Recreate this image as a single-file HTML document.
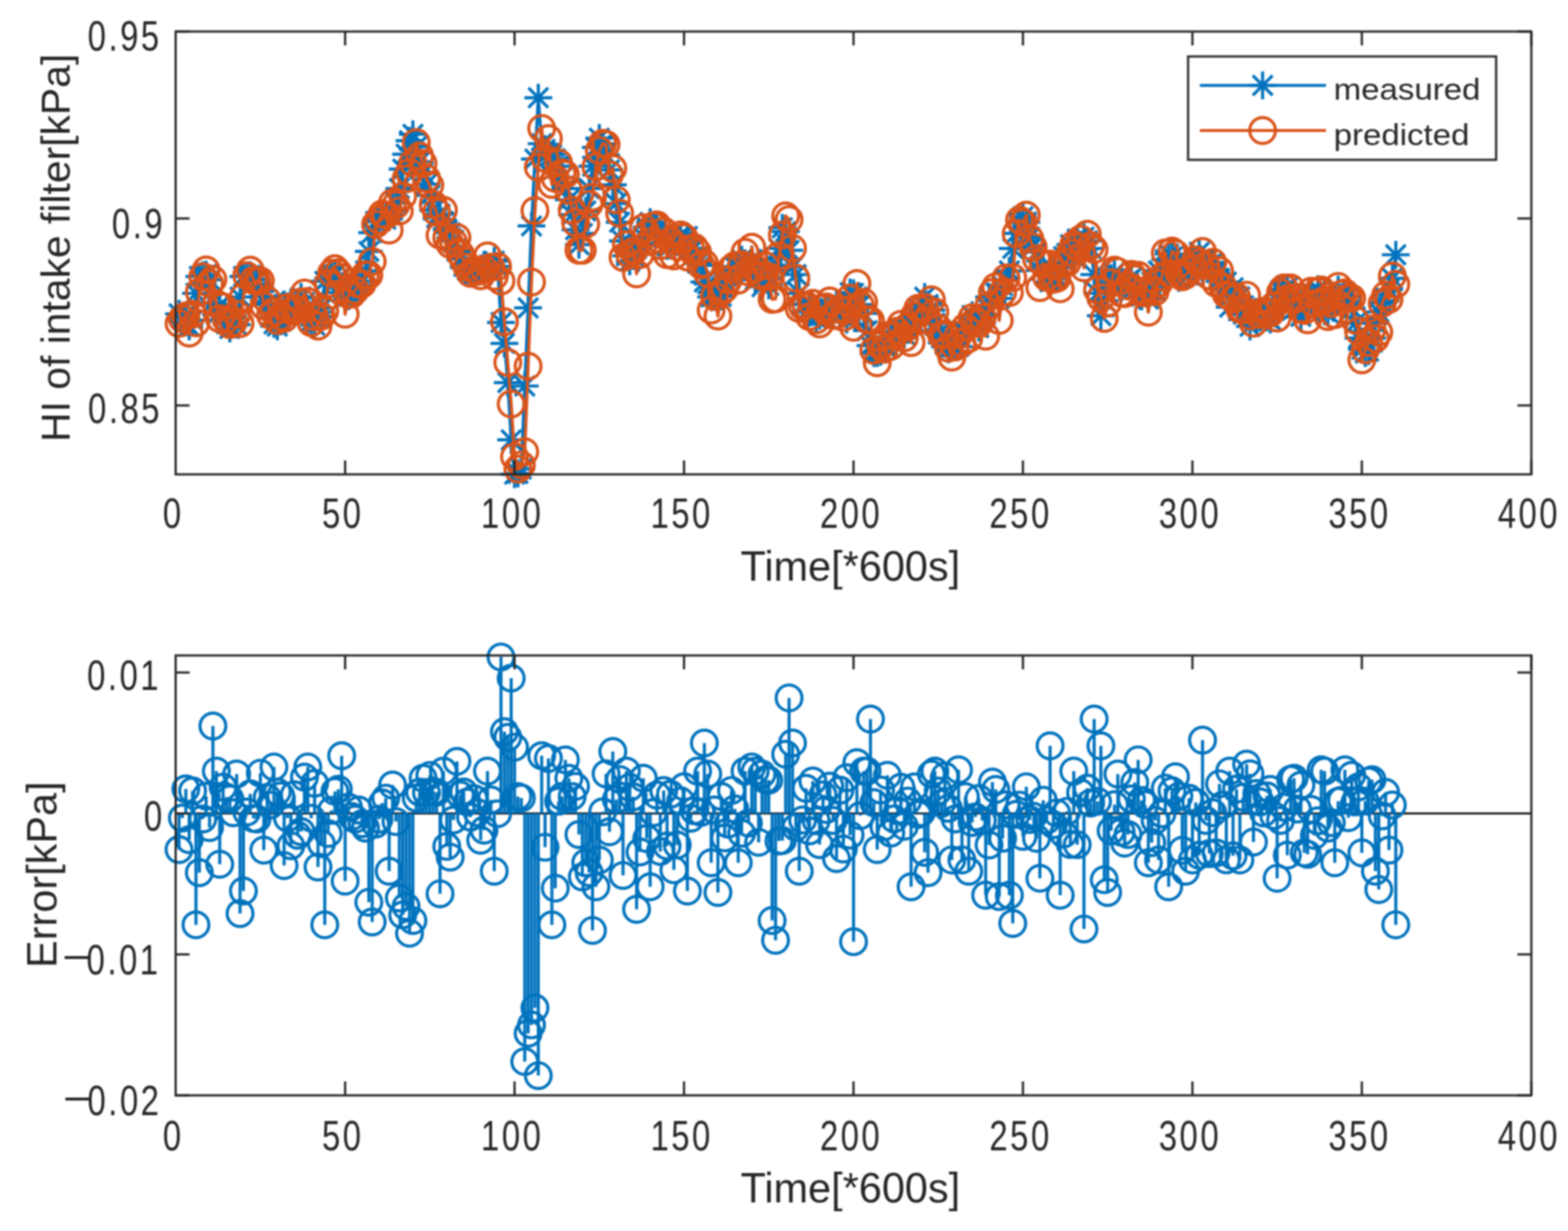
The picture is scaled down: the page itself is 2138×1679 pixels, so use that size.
<!DOCTYPE html>
<html><head><meta charset="utf-8"><title>HI of intake filter</title>
<style>html,body{margin:0;padding:0;background:#fff;}body{width:2138px;height:1679px;overflow:hidden;}svg{display:block;filter:blur(1.0px);}</style>
</head><body>
<svg width="2138" height="1679" viewBox="0 0 2138 1679">
<rect width="2138" height="1679" fill="#fff"/>
<polyline points="244.1,428.0 248.7,433.1 253.4,439.8 258.0,444.9 262.6,436.7 267.2,400.0 271.8,377.1 276.5,375.5 281.1,374.5 285.7,381.6 290.3,412.8 295.0,429.6 299.6,416.3 304.2,428.0 308.8,441.8 313.4,447.9 318.1,439.8 322.7,442.8 327.3,405.1 331.9,377.1 336.5,376.5 341.2,375.5 345.8,380.6 350.4,382.2 355.0,397.5 359.7,404.1 364.3,415.3 368.9,433.1 373.5,441.8 378.1,444.9 382.8,438.2 387.4,415.3 392.0,417.9 396.6,412.8 401.2,428.0 405.9,414.3 410.5,405.1 415.1,412.8 419.7,428.0 424.4,438.2 429.0,443.3 433.6,425.5 438.2,420.4 442.8,383.7 447.5,379.6 452.1,373.5 456.7,374.5 461.3,380.6 465.9,399.0 470.6,404.1 475.2,404.1 479.8,400.0 484.4,393.9 489.0,388.8 493.7,383.7 498.3,369.4 502.9,342.9 507.5,317.4 512.2,302.1 516.8,298.0 521.4,295.4 526.0,299.0 530.6,292.9 535.3,286.8 539.9,276.6 544.5,257.2 549.1,230.7 553.7,210.3 558.4,191.9 563.0,183.2 567.6,200.1 572.2,220.5 576.9,235.8 581.5,251.1 586.1,266.4 590.7,286.8 595.3,297.0 600.0,291.9 604.6,302.1 609.2,312.3 613.8,317.4 618.4,327.6 623.1,342.9 627.7,353.1 632.3,363.3 636.9,368.4 641.5,371.4 646.2,373.5 650.8,370.4 655.4,366.3 660.0,361.2 664.7,364.3 669.3,369.4 673.9,356.1 678.5,363.3 683.1,439.8 687.8,468.3 692.4,521.9 697.0,599.9 701.6,646.8 706.2,645.8 710.9,639.7 715.5,526.5 720.1,419.9 724.7,308.2 729.4,216.9 734.0,133.3 738.6,196.0 743.2,203.6 747.8,208.7 752.5,211.3 757.1,216.4 761.7,226.6 766.3,241.9 770.9,257.2 775.6,272.5 780.2,292.9 784.8,313.3 789.4,333.7 794.0,318.4 798.7,287.8 803.3,257.2 807.9,226.6 812.5,201.1 817.2,188.3 821.8,196.0 826.4,211.3 831.0,231.7 835.6,252.1 840.3,277.6 844.9,303.1 849.5,328.6 854.1,349.0 858.7,356.6 863.4,349.0 868.0,338.8 872.6,333.5 877.2,323.5 881.9,310.0 886.5,303.1 891.1,308.3 895.7,313.3 900.3,321.4 905.0,323.5 909.6,335.5 914.2,335.0 918.8,328.6 923.4,325.0 928.1,324.9 932.7,333.7 937.3,322.5 941.9,338.8 946.6,338.5 951.2,359.2 955.8,362.0 960.4,384.7 965.0,387.2 969.7,405.1 974.3,405.1 978.9,402.6 983.5,404.3 988.1,384.7 992.8,378.2 997.4,374.5 1002.0,363.9 1006.6,364.3 1011.2,353.9 1015.9,359.2 1020.5,367.4 1025.1,354.1 1029.7,381.7 1034.4,364.3 1039.0,391.1 1043.6,374.5 1048.2,389.2 1052.8,369.4 1057.5,361.7 1062.1,338.8 1066.7,310.7 1071.3,315.8 1075.9,341.3 1080.6,364.3 1085.2,374.5 1089.8,400.0 1094.4,415.3 1099.1,425.4 1103.7,425.5 1108.3,425.4 1112.9,433.7 1117.5,430.6 1122.2,427.3 1126.8,420.2 1131.4,420.4 1136.0,427.7 1140.6,413.8 1145.3,430.6 1149.9,420.0 1154.5,435.7 1159.1,399.0 1163.8,400.0 1168.4,405.1 1173.0,415.3 1177.6,427.5 1182.2,451.0 1186.9,471.4 1191.5,481.6 1196.1,481.6 1200.7,479.9 1205.3,471.4 1210.0,471.5 1214.6,465.3 1219.2,456.1 1223.8,452.8 1228.4,451.8 1233.1,456.1 1237.7,450.0 1242.3,440.8 1246.9,440.3 1251.6,420.4 1256.2,423.4 1260.8,405.1 1265.4,415.3 1270.0,423.2 1274.7,440.8 1279.3,455.5 1283.9,461.2 1288.5,469.3 1293.1,476.5 1297.8,470.3 1302.4,471.4 1307.0,472.7 1311.6,451.0 1316.3,452.3 1320.9,440.8 1325.5,430.1 1330.1,435.7 1334.7,446.8 1339.4,430.6 1344.0,429.0 1348.6,405.1 1353.2,410.2 1357.8,400.0 1362.5,407.0 1367.1,389.8 1371.7,382.3 1376.3,369.4 1380.9,338.8 1385.6,318.4 1390.2,303.1 1394.8,295.4 1399.4,303.1 1404.1,323.5 1408.7,335.9 1413.3,343.9 1417.9,368.9 1422.5,364.3 1427.2,375.8 1431.8,384.7 1436.4,376.8 1441.0,379.6 1445.6,364.3 1450.3,349.8 1454.9,359.2 1459.5,333.7 1464.1,349.0 1468.8,325.8 1473.4,333.7 1478.0,323.5 1482.6,328.6 1487.2,338.8 1491.9,374.5 1496.5,400.0 1501.1,430.6 1505.7,410.2 1510.3,384.7 1515.0,379.6 1519.6,371.7 1524.2,384.7 1528.8,392.9 1533.5,389.8 1538.1,382.5 1542.7,379.6 1547.3,391.5 1551.9,394.9 1556.6,404.2 1561.2,400.0 1565.8,408.0 1570.4,384.7 1575.0,395.3 1579.7,369.4 1584.3,377.6 1588.9,354.1 1593.5,346.4 1598.1,350.5 1602.8,359.2 1607.4,379.0 1612.0,364.3 1616.6,354.1 1621.3,375.3 1625.9,349.0 1630.5,358.5 1635.1,343.9 1639.7,369.4 1644.4,359.6 1649.0,361.8 1653.6,357.9 1658.2,371.9 1662.8,379.6 1667.5,394.2 1672.1,384.7 1676.7,418.9 1681.3,392.4 1686.0,413.7 1690.6,405.1 1695.2,428.5 1699.8,420.4 1704.4,445.2 1709.1,430.6 1713.7,434.7 1718.3,433.1 1722.9,424.7 1727.5,433.1 1732.2,435.7 1736.8,416.5 1741.4,410.2 1746.0,396.4 1750.6,394.9 1755.3,392.3 1759.9,405.1 1764.5,421.4 1769.1,407.3 1773.8,431.6 1778.4,409.3 1783.0,421.4 1787.6,398.7 1792.2,406.1 1796.9,394.6 1801.5,411.2 1806.1,424.8 1810.7,426.5 1815.3,410.7 1820.0,411.2 1824.6,395.0 1829.2,406.1 1833.8,415.3 1838.5,404.8 1843.1,420.4 1847.7,440.8 1852.3,461.2 1856.9,476.5 1861.6,481.6 1866.2,479.0 1870.8,461.2 1875.4,440.8 1880.0,425.5 1884.7,412.8 1889.3,410.2 1893.9,394.9 1898.5,379.6 1903.2,347.5" fill="none" stroke="#0072BD" stroke-width="4.2" stroke-linejoin="round"/>
<path d="M225.1 428.0h38.0M244.1 409.0v38.0M230.7 414.6l26.9 26.9M230.7 441.5l26.9 -26.9M229.7 433.1h38.0M248.7 414.1v38.0M235.3 419.7l26.9 26.9M235.3 446.6l26.9 -26.9M234.4 439.8h38.0M253.4 420.8v38.0M239.9 426.3l26.9 26.9M239.9 453.2l26.9 -26.9M239.0 444.9h38.0M258.0 425.9v38.0M244.6 431.4l26.9 26.9M244.6 458.3l26.9 -26.9M243.6 436.7h38.0M262.6 417.7v38.0M249.2 423.3l26.9 26.9M249.2 450.2l26.9 -26.9M248.2 400.0h38.0M267.2 381.0v38.0M253.8 386.6l26.9 26.9M253.8 413.4l26.9 -26.9M252.8 377.1h38.0M271.8 358.1v38.0M258.4 363.6l26.9 26.9M258.4 390.5l26.9 -26.9M257.5 375.5h38.0M276.5 356.5v38.0M263.0 362.1l26.9 26.9M263.0 389.0l26.9 -26.9M262.1 374.5h38.0M281.1 355.5v38.0M267.7 361.1l26.9 26.9M267.7 387.9l26.9 -26.9M266.7 381.6h38.0M285.7 362.6v38.0M272.3 368.2l26.9 26.9M272.3 395.1l26.9 -26.9M271.3 412.8h38.0M290.3 393.8v38.0M276.9 399.3l26.9 26.9M276.9 426.2l26.9 -26.9M276.0 429.6h38.0M295.0 410.6v38.0M281.5 416.1l26.9 26.9M281.5 443.0l26.9 -26.9M280.6 416.3h38.0M299.6 397.3v38.0M286.1 402.9l26.9 26.9M286.1 429.8l26.9 -26.9M285.2 428.0h38.0M304.2 409.0v38.0M290.8 414.6l26.9 26.9M290.8 441.5l26.9 -26.9M289.8 441.8h38.0M308.8 422.8v38.0M295.4 428.4l26.9 26.9M295.4 455.3l26.9 -26.9M294.4 447.9h38.0M313.4 428.9v38.0M300.0 434.5l26.9 26.9M300.0 461.4l26.9 -26.9M299.1 439.8h38.0M318.1 420.8v38.0M304.6 426.3l26.9 26.9M304.6 453.2l26.9 -26.9M303.7 442.8h38.0M322.7 423.8v38.0M309.2 429.4l26.9 26.9M309.2 456.3l26.9 -26.9M308.3 405.1h38.0M327.3 386.1v38.0M313.9 391.7l26.9 26.9M313.9 418.5l26.9 -26.9M312.9 377.1h38.0M331.9 358.1v38.0M318.5 363.6l26.9 26.9M318.5 390.5l26.9 -26.9M317.5 376.5h38.0M336.5 357.5v38.0M323.1 363.1l26.9 26.9M323.1 390.0l26.9 -26.9M322.2 375.5h38.0M341.2 356.5v38.0M327.7 362.1l26.9 26.9M327.7 389.0l26.9 -26.9M326.8 380.6h38.0M345.8 361.6v38.0M332.4 367.2l26.9 26.9M332.4 394.1l26.9 -26.9M331.4 382.2h38.0M350.4 363.2v38.0M337.0 368.7l26.9 26.9M337.0 395.6l26.9 -26.9M336.0 397.5h38.0M355.0 378.5v38.0M341.6 384.0l26.9 26.9M341.6 410.9l26.9 -26.9M340.7 404.1h38.0M359.7 385.1v38.0M346.2 390.6l26.9 26.9M346.2 417.5l26.9 -26.9M345.3 415.3h38.0M364.3 396.3v38.0M350.8 401.9l26.9 26.9M350.8 428.7l26.9 -26.9M349.9 433.1h38.0M368.9 414.1v38.0M355.5 419.7l26.9 26.9M355.5 446.6l26.9 -26.9M354.5 441.8h38.0M373.5 422.8v38.0M360.1 428.4l26.9 26.9M360.1 455.3l26.9 -26.9M359.1 444.9h38.0M378.1 425.9v38.0M364.7 431.4l26.9 26.9M364.7 458.3l26.9 -26.9M363.8 438.2h38.0M382.8 419.2v38.0M369.3 424.8l26.9 26.9M369.3 451.7l26.9 -26.9M368.4 415.3h38.0M387.4 396.3v38.0M373.9 401.9l26.9 26.9M373.9 428.7l26.9 -26.9M373.0 417.9h38.0M392.0 398.9v38.0M378.6 404.4l26.9 26.9M378.6 431.3l26.9 -26.9M377.6 412.8h38.0M396.6 393.8v38.0M383.2 399.3l26.9 26.9M383.2 426.2l26.9 -26.9M382.2 428.0h38.0M401.2 409.0v38.0M387.8 414.6l26.9 26.9M387.8 441.5l26.9 -26.9M386.9 414.3h38.0M405.9 395.3v38.0M392.4 400.8l26.9 26.9M392.4 427.7l26.9 -26.9M391.5 405.1h38.0M410.5 386.1v38.0M397.1 391.7l26.9 26.9M397.1 418.5l26.9 -26.9M396.1 412.8h38.0M415.1 393.8v38.0M401.7 399.3l26.9 26.9M401.7 426.2l26.9 -26.9M400.7 428.0h38.0M419.7 409.0v38.0M406.3 414.6l26.9 26.9M406.3 441.5l26.9 -26.9M405.4 438.2h38.0M424.4 419.2v38.0M410.9 424.8l26.9 26.9M410.9 451.7l26.9 -26.9M410.0 443.3h38.0M429.0 424.3v38.0M415.5 429.9l26.9 26.9M415.5 456.8l26.9 -26.9M414.6 425.5h38.0M433.6 406.5v38.0M420.2 412.1l26.9 26.9M420.2 438.9l26.9 -26.9M419.2 420.4h38.0M438.2 401.4v38.0M424.8 407.0l26.9 26.9M424.8 433.8l26.9 -26.9M423.8 383.7h38.0M442.8 364.7v38.0M429.4 370.2l26.9 26.9M429.4 397.1l26.9 -26.9M428.5 379.6h38.0M447.5 360.6v38.0M434.0 366.2l26.9 26.9M434.0 393.0l26.9 -26.9M433.1 373.5h38.0M452.1 354.5v38.0M438.6 360.0l26.9 26.9M438.6 386.9l26.9 -26.9M437.7 374.5h38.0M456.7 355.5v38.0M443.3 361.1l26.9 26.9M443.3 387.9l26.9 -26.9M442.3 380.6h38.0M461.3 361.6v38.0M447.9 367.2l26.9 26.9M447.9 394.1l26.9 -26.9M446.9 399.0h38.0M465.9 380.0v38.0M452.5 385.5l26.9 26.9M452.5 412.4l26.9 -26.9M451.6 404.1h38.0M470.6 385.1v38.0M457.1 390.6l26.9 26.9M457.1 417.5l26.9 -26.9M456.2 404.1h38.0M475.2 385.1v38.0M461.7 390.6l26.9 26.9M461.7 417.5l26.9 -26.9M460.8 400.0h38.0M479.8 381.0v38.0M466.4 386.6l26.9 26.9M466.4 413.4l26.9 -26.9M465.4 393.9h38.0M484.4 374.9v38.0M471.0 380.4l26.9 26.9M471.0 407.3l26.9 -26.9M470.0 388.8h38.0M489.0 369.8v38.0M475.6 375.3l26.9 26.9M475.6 402.2l26.9 -26.9M474.7 383.7h38.0M493.7 364.7v38.0M480.2 370.2l26.9 26.9M480.2 397.1l26.9 -26.9M479.3 369.4h38.0M498.3 350.4v38.0M484.9 356.0l26.9 26.9M484.9 382.8l26.9 -26.9M483.9 342.9h38.0M502.9 323.9v38.0M489.5 329.4l26.9 26.9M489.5 356.3l26.9 -26.9M488.5 317.4h38.0M507.5 298.4v38.0M494.1 303.9l26.9 26.9M494.1 330.8l26.9 -26.9M493.2 302.1h38.0M512.2 283.1v38.0M498.7 288.6l26.9 26.9M498.7 315.5l26.9 -26.9M497.8 298.0h38.0M516.8 279.0v38.0M503.3 284.6l26.9 26.9M503.3 311.4l26.9 -26.9M502.4 295.4h38.0M521.4 276.4v38.0M508.0 282.0l26.9 26.9M508.0 308.9l26.9 -26.9M507.0 299.0h38.0M526.0 280.0v38.0M512.6 285.6l26.9 26.9M512.6 312.5l26.9 -26.9M511.6 292.9h38.0M530.6 273.9v38.0M517.2 279.5l26.9 26.9M517.2 306.3l26.9 -26.9M516.3 286.8h38.0M535.3 267.8v38.0M521.8 273.3l26.9 26.9M521.8 300.2l26.9 -26.9M520.9 276.6h38.0M539.9 257.6v38.0M526.4 263.1l26.9 26.9M526.4 290.0l26.9 -26.9M525.5 257.2h38.0M544.5 238.2v38.0M531.1 243.8l26.9 26.9M531.1 270.6l26.9 -26.9M530.1 230.7h38.0M549.1 211.7v38.0M535.7 217.2l26.9 26.9M535.7 244.1l26.9 -26.9M534.7 210.3h38.0M553.7 191.3v38.0M540.3 196.8l26.9 26.9M540.3 223.7l26.9 -26.9M539.4 191.9h38.0M558.4 172.9v38.0M544.9 178.5l26.9 26.9M544.9 205.4l26.9 -26.9M544.0 183.2h38.0M563.0 164.2v38.0M549.6 169.8l26.9 26.9M549.6 196.7l26.9 -26.9M548.6 200.1h38.0M567.6 181.1v38.0M554.2 186.6l26.9 26.9M554.2 213.5l26.9 -26.9M553.2 220.5h38.0M572.2 201.5v38.0M558.8 207.0l26.9 26.9M558.8 233.9l26.9 -26.9M557.9 235.8h38.0M576.9 216.8v38.0M563.4 222.3l26.9 26.9M563.4 249.2l26.9 -26.9M562.5 251.1h38.0M581.5 232.1v38.0M568.0 237.6l26.9 26.9M568.0 264.5l26.9 -26.9M567.1 266.4h38.0M586.1 247.4v38.0M572.7 252.9l26.9 26.9M572.7 279.8l26.9 -26.9M571.7 286.8h38.0M590.7 267.8v38.0M577.3 273.3l26.9 26.9M577.3 300.2l26.9 -26.9M576.3 297.0h38.0M595.3 278.0v38.0M581.9 283.5l26.9 26.9M581.9 310.4l26.9 -26.9M581.0 291.9h38.0M600.0 272.9v38.0M586.5 278.4l26.9 26.9M586.5 305.3l26.9 -26.9M585.6 302.1h38.0M604.6 283.1v38.0M591.1 288.6l26.9 26.9M591.1 315.5l26.9 -26.9M590.2 312.3h38.0M609.2 293.3v38.0M595.8 298.8l26.9 26.9M595.8 325.7l26.9 -26.9M594.8 317.4h38.0M613.8 298.4v38.0M600.4 303.9l26.9 26.9M600.4 330.8l26.9 -26.9M599.4 327.6h38.0M618.4 308.6v38.0M605.0 314.1l26.9 26.9M605.0 341.0l26.9 -26.9M604.1 342.9h38.0M623.1 323.9v38.0M609.6 329.4l26.9 26.9M609.6 356.3l26.9 -26.9M608.7 353.1h38.0M627.7 334.1v38.0M614.3 339.6l26.9 26.9M614.3 366.5l26.9 -26.9M613.3 363.3h38.0M632.3 344.3v38.0M618.9 349.8l26.9 26.9M618.9 376.7l26.9 -26.9M617.9 368.4h38.0M636.9 349.4v38.0M623.5 354.9l26.9 26.9M623.5 381.8l26.9 -26.9M622.5 371.4h38.0M641.5 352.4v38.0M628.1 358.0l26.9 26.9M628.1 384.9l26.9 -26.9M627.2 373.5h38.0M646.2 354.5v38.0M632.7 360.0l26.9 26.9M632.7 386.9l26.9 -26.9M631.8 370.4h38.0M650.8 351.4v38.0M637.4 357.0l26.9 26.9M637.4 383.9l26.9 -26.9M636.4 366.3h38.0M655.4 347.3v38.0M642.0 352.9l26.9 26.9M642.0 379.8l26.9 -26.9M641.0 361.2h38.0M660.0 342.2v38.0M646.6 347.8l26.9 26.9M646.6 374.7l26.9 -26.9M645.7 364.3h38.0M664.7 345.3v38.0M651.2 350.9l26.9 26.9M651.2 377.7l26.9 -26.9M650.3 369.4h38.0M669.3 350.4v38.0M655.8 356.0l26.9 26.9M655.8 382.8l26.9 -26.9M654.9 356.1h38.0M673.9 337.1v38.0M660.5 342.7l26.9 26.9M660.5 369.6l26.9 -26.9M659.5 363.3h38.0M678.5 344.3v38.0M665.1 349.8l26.9 26.9M665.1 376.7l26.9 -26.9M664.1 439.8h38.0M683.1 420.8v38.0M669.7 426.3l26.9 26.9M669.7 453.2l26.9 -26.9M668.8 468.3h38.0M687.8 449.3v38.0M674.3 454.9l26.9 26.9M674.3 481.8l26.9 -26.9M673.4 521.9h38.0M692.4 502.9v38.0M678.9 508.5l26.9 26.9M678.9 535.3l26.9 -26.9M678.0 599.9h38.0M697.0 580.9v38.0M683.6 586.5l26.9 26.9M683.6 613.4l26.9 -26.9M682.6 646.8h38.0M701.6 627.8v38.0M688.2 633.4l26.9 26.9M688.2 660.3l26.9 -26.9M687.2 645.8h38.0M706.2 626.8v38.0M692.8 632.4l26.9 26.9M692.8 659.3l26.9 -26.9M691.9 639.7h38.0M710.9 620.7v38.0M697.4 626.3l26.9 26.9M697.4 653.1l26.9 -26.9M696.5 526.5h38.0M715.5 507.5v38.0M702.1 513.0l26.9 26.9M702.1 539.9l26.9 -26.9M701.1 419.9h38.0M720.1 400.9v38.0M706.7 406.5l26.9 26.9M706.7 433.3l26.9 -26.9M705.7 308.2h38.0M724.7 289.2v38.0M711.3 294.8l26.9 26.9M711.3 321.6l26.9 -26.9M710.4 216.9h38.0M729.4 197.9v38.0M715.9 203.5l26.9 26.9M715.9 230.3l26.9 -26.9M715.0 133.3h38.0M734.0 114.3v38.0M720.5 119.8l26.9 26.9M720.5 146.7l26.9 -26.9M719.6 196.0h38.0M738.6 177.0v38.0M725.2 182.6l26.9 26.9M725.2 209.4l26.9 -26.9M724.2 203.6h38.0M743.2 184.6v38.0M729.8 190.2l26.9 26.9M729.8 217.1l26.9 -26.9M728.8 208.7h38.0M747.8 189.7v38.0M734.4 195.3l26.9 26.9M734.4 222.2l26.9 -26.9M733.5 211.3h38.0M752.5 192.3v38.0M739.0 197.9l26.9 26.9M739.0 224.7l26.9 -26.9M738.1 216.4h38.0M757.1 197.4v38.0M743.6 203.0l26.9 26.9M743.6 229.8l26.9 -26.9M742.7 226.6h38.0M761.7 207.6v38.0M748.3 213.2l26.9 26.9M748.3 240.0l26.9 -26.9M747.3 241.9h38.0M766.3 222.9v38.0M752.9 228.5l26.9 26.9M752.9 255.3l26.9 -26.9M751.9 257.2h38.0M770.9 238.2v38.0M757.5 243.8l26.9 26.9M757.5 270.6l26.9 -26.9M756.6 272.5h38.0M775.6 253.5v38.0M762.1 259.1l26.9 26.9M762.1 285.9l26.9 -26.9M761.2 292.9h38.0M780.2 273.9v38.0M766.8 279.5l26.9 26.9M766.8 306.3l26.9 -26.9M765.8 313.3h38.0M784.8 294.3v38.0M771.4 299.9l26.9 26.9M771.4 326.7l26.9 -26.9M770.4 333.7h38.0M789.4 314.7v38.0M776.0 320.3l26.9 26.9M776.0 347.1l26.9 -26.9M775.0 318.4h38.0M794.0 299.4v38.0M780.6 305.0l26.9 26.9M780.6 331.8l26.9 -26.9M779.7 287.8h38.0M798.7 268.8v38.0M785.2 274.4l26.9 26.9M785.2 301.2l26.9 -26.9M784.3 257.2h38.0M803.3 238.2v38.0M789.9 243.8l26.9 26.9M789.9 270.6l26.9 -26.9M788.9 226.6h38.0M807.9 207.6v38.0M794.5 213.2l26.9 26.9M794.5 240.0l26.9 -26.9M793.5 201.1h38.0M812.5 182.1v38.0M799.1 187.7l26.9 26.9M799.1 214.5l26.9 -26.9M798.2 188.3h38.0M817.2 169.3v38.0M803.7 174.9l26.9 26.9M803.7 201.8l26.9 -26.9M802.8 196.0h38.0M821.8 177.0v38.0M808.3 182.6l26.9 26.9M808.3 209.4l26.9 -26.9M807.4 211.3h38.0M826.4 192.3v38.0M813.0 197.9l26.9 26.9M813.0 224.7l26.9 -26.9M812.0 231.7h38.0M831.0 212.7v38.0M817.6 218.3l26.9 26.9M817.6 245.1l26.9 -26.9M816.6 252.1h38.0M835.6 233.1v38.0M822.2 238.7l26.9 26.9M822.2 265.5l26.9 -26.9M821.3 277.6h38.0M840.3 258.6v38.0M826.8 264.2l26.9 26.9M826.8 291.0l26.9 -26.9M825.9 303.1h38.0M844.9 284.1v38.0M831.4 289.7l26.9 26.9M831.4 316.5l26.9 -26.9M830.5 328.6h38.0M849.5 309.6v38.0M836.1 315.2l26.9 26.9M836.1 342.0l26.9 -26.9M835.1 349.0h38.0M854.1 330.0v38.0M840.7 335.6l26.9 26.9M840.7 362.4l26.9 -26.9M839.7 356.6h38.0M858.7 337.6v38.0M845.3 343.2l26.9 26.9M845.3 370.1l26.9 -26.9M844.4 349.0h38.0M863.4 330.0v38.0M849.9 335.6l26.9 26.9M849.9 362.4l26.9 -26.9M849.0 338.8h38.0M868.0 319.8v38.0M854.6 325.4l26.9 26.9M854.6 352.2l26.9 -26.9M853.6 333.5h38.0M872.6 314.5v38.0M859.2 320.1l26.9 26.9M859.2 346.9l26.9 -26.9M858.2 323.5h38.0M877.2 304.5v38.0M863.8 310.1l26.9 26.9M863.8 336.9l26.9 -26.9M862.9 310.0h38.0M881.9 291.0v38.0M868.4 296.6l26.9 26.9M868.4 323.4l26.9 -26.9M867.5 303.1h38.0M886.5 284.1v38.0M873.0 289.7l26.9 26.9M873.0 316.5l26.9 -26.9M872.1 308.3h38.0M891.1 289.3v38.0M877.7 294.9l26.9 26.9M877.7 321.7l26.9 -26.9M876.7 313.3h38.0M895.7 294.3v38.0M882.3 299.9l26.9 26.9M882.3 326.7l26.9 -26.9M881.3 321.4h38.0M900.3 302.4v38.0M886.9 307.9l26.9 26.9M886.9 334.8l26.9 -26.9M886.0 323.5h38.0M905.0 304.5v38.0M891.5 310.1l26.9 26.9M891.5 336.9l26.9 -26.9M890.6 335.5h38.0M909.6 316.5v38.0M896.1 322.1l26.9 26.9M896.1 348.9l26.9 -26.9M895.2 335.0h38.0M914.2 316.0v38.0M900.8 321.6l26.9 26.9M900.8 348.5l26.9 -26.9M899.8 328.6h38.0M918.8 309.6v38.0M905.4 315.2l26.9 26.9M905.4 342.0l26.9 -26.9M904.4 325.0h38.0M923.4 306.0v38.0M910.0 311.5l26.9 26.9M910.0 338.4l26.9 -26.9M909.1 324.9h38.0M928.1 305.9v38.0M914.6 311.5l26.9 26.9M914.6 338.3l26.9 -26.9M913.7 333.7h38.0M932.7 314.7v38.0M919.3 320.3l26.9 26.9M919.3 347.1l26.9 -26.9M918.3 322.5h38.0M937.3 303.5v38.0M923.9 309.0l26.9 26.9M923.9 335.9l26.9 -26.9M922.9 338.8h38.0M941.9 319.8v38.0M928.5 325.4l26.9 26.9M928.5 352.2l26.9 -26.9M927.6 338.5h38.0M946.6 319.5v38.0M933.1 325.0l26.9 26.9M933.1 351.9l26.9 -26.9M932.2 359.2h38.0M951.2 340.2v38.0M937.7 345.8l26.9 26.9M937.7 372.6l26.9 -26.9M936.8 362.0h38.0M955.8 343.0v38.0M942.4 348.6l26.9 26.9M942.4 375.4l26.9 -26.9M941.4 384.7h38.0M960.4 365.7v38.0M947.0 371.3l26.9 26.9M947.0 398.1l26.9 -26.9M946.0 387.2h38.0M965.0 368.2v38.0M951.6 373.8l26.9 26.9M951.6 400.7l26.9 -26.9M950.7 405.1h38.0M969.7 386.1v38.0M956.2 391.7l26.9 26.9M956.2 418.5l26.9 -26.9M955.3 405.1h38.0M974.3 386.1v38.0M960.8 391.7l26.9 26.9M960.8 418.5l26.9 -26.9M959.9 402.6h38.0M978.9 383.6v38.0M965.5 389.1l26.9 26.9M965.5 416.0l26.9 -26.9M964.5 404.3h38.0M983.5 385.3v38.0M970.1 390.9l26.9 26.9M970.1 417.8l26.9 -26.9M969.1 384.7h38.0M988.1 365.7v38.0M974.7 371.3l26.9 26.9M974.7 398.1l26.9 -26.9M973.8 378.2h38.0M992.8 359.2v38.0M979.3 364.7l26.9 26.9M979.3 391.6l26.9 -26.9M978.4 374.5h38.0M997.4 355.5v38.0M984.0 361.1l26.9 26.9M984.0 387.9l26.9 -26.9M983.0 363.9h38.0M1002.0 344.9v38.0M988.6 350.5l26.9 26.9M988.6 377.3l26.9 -26.9M987.6 364.3h38.0M1006.6 345.3v38.0M993.2 350.9l26.9 26.9M993.2 377.7l26.9 -26.9M992.2 353.9h38.0M1011.2 334.9v38.0M997.8 340.4l26.9 26.9M997.8 367.3l26.9 -26.9M996.9 359.2h38.0M1015.9 340.2v38.0M1002.4 345.8l26.9 26.9M1002.4 372.6l26.9 -26.9M1001.5 367.4h38.0M1020.5 348.4v38.0M1007.1 354.0l26.9 26.9M1007.1 380.9l26.9 -26.9M1006.1 354.1h38.0M1025.1 335.1v38.0M1011.7 340.7l26.9 26.9M1011.7 367.5l26.9 -26.9M1010.7 381.7h38.0M1029.7 362.7v38.0M1016.3 368.3l26.9 26.9M1016.3 395.1l26.9 -26.9M1015.4 364.3h38.0M1034.4 345.3v38.0M1020.9 350.9l26.9 26.9M1020.9 377.7l26.9 -26.9M1020.0 391.1h38.0M1039.0 372.1v38.0M1025.5 377.6l26.9 26.9M1025.5 404.5l26.9 -26.9M1024.6 374.5h38.0M1043.6 355.5v38.0M1030.2 361.1l26.9 26.9M1030.2 387.9l26.9 -26.9M1029.2 389.2h38.0M1048.2 370.2v38.0M1034.8 375.8l26.9 26.9M1034.8 402.7l26.9 -26.9M1033.8 369.4h38.0M1052.8 350.4v38.0M1039.4 356.0l26.9 26.9M1039.4 382.8l26.9 -26.9M1038.5 361.7h38.0M1057.5 342.7v38.0M1044.0 348.2l26.9 26.9M1044.0 375.1l26.9 -26.9M1043.1 338.8h38.0M1062.1 319.8v38.0M1048.6 325.4l26.9 26.9M1048.6 352.2l26.9 -26.9M1047.7 310.7h38.0M1066.7 291.7v38.0M1053.3 297.3l26.9 26.9M1053.3 324.2l26.9 -26.9M1052.3 315.8h38.0M1071.3 296.8v38.0M1057.9 302.4l26.9 26.9M1057.9 329.3l26.9 -26.9M1056.9 341.3h38.0M1075.9 322.3v38.0M1062.5 327.9l26.9 26.9M1062.5 354.8l26.9 -26.9M1061.6 364.3h38.0M1080.6 345.3v38.0M1067.1 350.9l26.9 26.9M1067.1 377.7l26.9 -26.9M1066.2 374.5h38.0M1085.2 355.5v38.0M1071.8 361.1l26.9 26.9M1071.8 387.9l26.9 -26.9M1070.8 400.0h38.0M1089.8 381.0v38.0M1076.4 386.6l26.9 26.9M1076.4 413.4l26.9 -26.9M1075.4 415.3h38.0M1094.4 396.3v38.0M1081.0 401.9l26.9 26.9M1081.0 428.7l26.9 -26.9M1080.1 425.4h38.0M1099.1 406.4v38.0M1085.6 411.9l26.9 26.9M1085.6 438.8l26.9 -26.9M1084.7 425.5h38.0M1103.7 406.5v38.0M1090.2 412.1l26.9 26.9M1090.2 438.9l26.9 -26.9M1089.3 425.4h38.0M1108.3 406.4v38.0M1094.9 412.0l26.9 26.9M1094.9 438.8l26.9 -26.9M1093.9 433.7h38.0M1112.9 414.7v38.0M1099.5 420.3l26.9 26.9M1099.5 447.1l26.9 -26.9M1098.5 430.6h38.0M1117.5 411.6v38.0M1104.1 417.2l26.9 26.9M1104.1 444.0l26.9 -26.9M1103.2 427.3h38.0M1122.2 408.3v38.0M1108.7 413.8l26.9 26.9M1108.7 440.7l26.9 -26.9M1107.8 420.2h38.0M1126.8 401.2v38.0M1113.3 406.8l26.9 26.9M1113.3 433.6l26.9 -26.9M1112.4 420.4h38.0M1131.4 401.4v38.0M1118.0 407.0l26.9 26.9M1118.0 433.8l26.9 -26.9M1117.0 427.7h38.0M1136.0 408.7v38.0M1122.6 414.3l26.9 26.9M1122.6 441.2l26.9 -26.9M1121.6 413.8h38.0M1140.6 394.8v38.0M1127.2 400.3l26.9 26.9M1127.2 427.2l26.9 -26.9M1126.3 430.6h38.0M1145.3 411.6v38.0M1131.8 417.2l26.9 26.9M1131.8 444.0l26.9 -26.9M1130.9 420.0h38.0M1149.9 401.0v38.0M1136.5 406.6l26.9 26.9M1136.5 433.4l26.9 -26.9M1135.5 435.7h38.0M1154.5 416.7v38.0M1141.1 422.3l26.9 26.9M1141.1 449.1l26.9 -26.9M1140.1 399.0h38.0M1159.1 380.0v38.0M1145.7 385.5l26.9 26.9M1145.7 412.4l26.9 -26.9M1144.8 400.0h38.0M1163.8 381.0v38.0M1150.3 386.6l26.9 26.9M1150.3 413.4l26.9 -26.9M1149.4 405.1h38.0M1168.4 386.1v38.0M1154.9 391.7l26.9 26.9M1154.9 418.5l26.9 -26.9M1154.0 415.3h38.0M1173.0 396.3v38.0M1159.6 401.9l26.9 26.9M1159.6 428.7l26.9 -26.9M1158.6 427.5h38.0M1177.6 408.5v38.0M1164.2 414.1l26.9 26.9M1164.2 440.9l26.9 -26.9M1163.2 451.0h38.0M1182.2 432.0v38.0M1168.8 437.6l26.9 26.9M1168.8 464.4l26.9 -26.9M1167.9 471.4h38.0M1186.9 452.4v38.0M1173.4 458.0l26.9 26.9M1173.4 484.8l26.9 -26.9M1172.5 481.6h38.0M1191.5 462.6v38.0M1178.0 468.2l26.9 26.9M1178.0 495.0l26.9 -26.9M1177.1 481.6h38.0M1196.1 462.6v38.0M1182.7 468.2l26.9 26.9M1182.7 495.0l26.9 -26.9M1181.7 479.9h38.0M1200.7 460.9v38.0M1187.3 466.5l26.9 26.9M1187.3 493.3l26.9 -26.9M1186.3 471.4h38.0M1205.3 452.4v38.0M1191.9 458.0l26.9 26.9M1191.9 484.8l26.9 -26.9M1191.0 471.5h38.0M1210.0 452.5v38.0M1196.5 458.1l26.9 26.9M1196.5 484.9l26.9 -26.9M1195.6 465.3h38.0M1214.6 446.3v38.0M1201.1 451.9l26.9 26.9M1201.1 478.7l26.9 -26.9M1200.2 456.1h38.0M1219.2 437.1v38.0M1205.8 442.7l26.9 26.9M1205.8 469.5l26.9 -26.9M1204.8 452.8h38.0M1223.8 433.8v38.0M1210.4 439.3l26.9 26.9M1210.4 466.2l26.9 -26.9M1209.4 451.8h38.0M1228.4 432.8v38.0M1215.0 438.4l26.9 26.9M1215.0 465.2l26.9 -26.9M1214.1 456.1h38.0M1233.1 437.1v38.0M1219.6 442.7l26.9 26.9M1219.6 469.5l26.9 -26.9M1218.7 450.0h38.0M1237.7 431.0v38.0M1224.3 436.5l26.9 26.9M1224.3 463.4l26.9 -26.9M1223.3 440.8h38.0M1242.3 421.8v38.0M1228.9 427.4l26.9 26.9M1228.9 454.2l26.9 -26.9M1227.9 440.3h38.0M1246.9 421.3v38.0M1233.5 426.9l26.9 26.9M1233.5 453.7l26.9 -26.9M1232.6 420.4h38.0M1251.6 401.4v38.0M1238.1 407.0l26.9 26.9M1238.1 433.8l26.9 -26.9M1237.2 423.4h38.0M1256.2 404.4v38.0M1242.7 409.9l26.9 26.9M1242.7 436.8l26.9 -26.9M1241.8 405.1h38.0M1260.8 386.1v38.0M1247.4 391.7l26.9 26.9M1247.4 418.5l26.9 -26.9M1246.4 415.3h38.0M1265.4 396.3v38.0M1252.0 401.9l26.9 26.9M1252.0 428.7l26.9 -26.9M1251.0 423.2h38.0M1270.0 404.2v38.0M1256.6 409.8l26.9 26.9M1256.6 436.6l26.9 -26.9M1255.7 440.8h38.0M1274.7 421.8v38.0M1261.2 427.4l26.9 26.9M1261.2 454.2l26.9 -26.9M1260.3 455.5h38.0M1279.3 436.5v38.0M1265.8 442.1l26.9 26.9M1265.8 468.9l26.9 -26.9M1264.9 461.2h38.0M1283.9 442.2v38.0M1270.5 447.8l26.9 26.9M1270.5 474.6l26.9 -26.9M1269.5 469.3h38.0M1288.5 450.3v38.0M1275.1 455.9l26.9 26.9M1275.1 482.7l26.9 -26.9M1274.1 476.5h38.0M1293.1 457.5v38.0M1279.7 463.1l26.9 26.9M1279.7 489.9l26.9 -26.9M1278.8 470.3h38.0M1297.8 451.3v38.0M1284.3 456.9l26.9 26.9M1284.3 483.7l26.9 -26.9M1283.4 471.4h38.0M1302.4 452.4v38.0M1289.0 458.0l26.9 26.9M1289.0 484.8l26.9 -26.9M1288.0 472.7h38.0M1307.0 453.7v38.0M1293.6 459.3l26.9 26.9M1293.6 486.1l26.9 -26.9M1292.6 451.0h38.0M1311.6 432.0v38.0M1298.2 437.6l26.9 26.9M1298.2 464.4l26.9 -26.9M1297.3 452.3h38.0M1316.3 433.3v38.0M1302.8 438.9l26.9 26.9M1302.8 465.8l26.9 -26.9M1301.9 440.8h38.0M1320.9 421.8v38.0M1307.4 427.4l26.9 26.9M1307.4 454.2l26.9 -26.9M1306.5 430.1h38.0M1325.5 411.1v38.0M1312.1 416.7l26.9 26.9M1312.1 443.6l26.9 -26.9M1311.1 435.7h38.0M1330.1 416.7v38.0M1316.7 422.3l26.9 26.9M1316.7 449.1l26.9 -26.9M1315.7 446.8h38.0M1334.7 427.8v38.0M1321.3 433.3l26.9 26.9M1321.3 460.2l26.9 -26.9M1320.4 430.6h38.0M1339.4 411.6v38.0M1325.9 417.2l26.9 26.9M1325.9 444.0l26.9 -26.9M1325.0 429.0h38.0M1344.0 410.0v38.0M1330.5 415.5l26.9 26.9M1330.5 442.4l26.9 -26.9M1329.6 405.1h38.0M1348.6 386.1v38.0M1335.2 391.7l26.9 26.9M1335.2 418.5l26.9 -26.9M1334.2 410.2h38.0M1353.2 391.2v38.0M1339.8 396.8l26.9 26.9M1339.8 423.6l26.9 -26.9M1338.8 400.0h38.0M1357.8 381.0v38.0M1344.4 386.6l26.9 26.9M1344.4 413.4l26.9 -26.9M1343.5 407.0h38.0M1362.5 388.0v38.0M1349.0 393.6l26.9 26.9M1349.0 420.4l26.9 -26.9M1348.1 389.8h38.0M1367.1 370.8v38.0M1353.7 376.4l26.9 26.9M1353.7 403.2l26.9 -26.9M1352.7 382.3h38.0M1371.7 363.3v38.0M1358.3 368.9l26.9 26.9M1358.3 395.7l26.9 -26.9M1357.3 369.4h38.0M1376.3 350.4v38.0M1362.9 356.0l26.9 26.9M1362.9 382.8l26.9 -26.9M1361.9 338.8h38.0M1380.9 319.8v38.0M1367.5 325.4l26.9 26.9M1367.5 352.2l26.9 -26.9M1366.6 318.4h38.0M1385.6 299.4v38.0M1372.1 305.0l26.9 26.9M1372.1 331.8l26.9 -26.9M1371.2 303.1h38.0M1390.2 284.1v38.0M1376.8 289.7l26.9 26.9M1376.8 316.5l26.9 -26.9M1375.8 295.4h38.0M1394.8 276.4v38.0M1381.4 282.0l26.9 26.9M1381.4 308.9l26.9 -26.9M1380.4 303.1h38.0M1399.4 284.1v38.0M1386.0 289.7l26.9 26.9M1386.0 316.5l26.9 -26.9M1385.1 323.5h38.0M1404.1 304.5v38.0M1390.6 310.1l26.9 26.9M1390.6 336.9l26.9 -26.9M1389.7 335.9h38.0M1408.7 316.9v38.0M1395.2 322.5l26.9 26.9M1395.2 349.3l26.9 -26.9M1394.3 343.9h38.0M1413.3 324.9v38.0M1399.9 330.5l26.9 26.9M1399.9 357.3l26.9 -26.9M1398.9 368.9h38.0M1417.9 349.9v38.0M1404.5 355.4l26.9 26.9M1404.5 382.3l26.9 -26.9M1403.5 364.3h38.0M1422.5 345.3v38.0M1409.1 350.9l26.9 26.9M1409.1 377.7l26.9 -26.9M1408.2 375.8h38.0M1427.2 356.8v38.0M1413.7 362.3l26.9 26.9M1413.7 389.2l26.9 -26.9M1412.8 384.7h38.0M1431.8 365.7v38.0M1418.3 371.3l26.9 26.9M1418.3 398.1l26.9 -26.9M1417.4 376.8h38.0M1436.4 357.8v38.0M1423.0 363.3l26.9 26.9M1423.0 390.2l26.9 -26.9M1422.0 379.6h38.0M1441.0 360.6v38.0M1427.6 366.2l26.9 26.9M1427.6 393.0l26.9 -26.9M1426.6 364.3h38.0M1445.6 345.3v38.0M1432.2 350.9l26.9 26.9M1432.2 377.7l26.9 -26.9M1431.3 349.8h38.0M1450.3 330.8v38.0M1436.8 336.4l26.9 26.9M1436.8 363.3l26.9 -26.9M1435.9 359.2h38.0M1454.9 340.2v38.0M1441.5 345.8l26.9 26.9M1441.5 372.6l26.9 -26.9M1440.5 333.7h38.0M1459.5 314.7v38.0M1446.1 320.3l26.9 26.9M1446.1 347.2l26.9 -26.9M1445.1 349.0h38.0M1464.1 330.0v38.0M1450.7 335.6l26.9 26.9M1450.7 362.4l26.9 -26.9M1449.8 325.8h38.0M1468.8 306.8v38.0M1455.3 312.4l26.9 26.9M1455.3 339.2l26.9 -26.9M1454.4 333.7h38.0M1473.4 314.7v38.0M1459.9 320.3l26.9 26.9M1459.9 347.1l26.9 -26.9M1459.0 323.5h38.0M1478.0 304.5v38.0M1464.6 310.1l26.9 26.9M1464.6 336.9l26.9 -26.9M1463.6 328.6h38.0M1482.6 309.6v38.0M1469.2 315.2l26.9 26.9M1469.2 342.0l26.9 -26.9M1468.2 338.8h38.0M1487.2 319.8v38.0M1473.8 325.4l26.9 26.9M1473.8 352.2l26.9 -26.9M1472.9 374.5h38.0M1491.9 355.5v38.0M1478.4 361.1l26.9 26.9M1478.4 387.9l26.9 -26.9M1477.5 400.0h38.0M1496.5 381.0v38.0M1483.0 386.6l26.9 26.9M1483.0 413.4l26.9 -26.9M1482.1 430.6h38.0M1501.1 411.6v38.0M1487.7 417.2l26.9 26.9M1487.7 444.0l26.9 -26.9M1486.7 410.2h38.0M1505.7 391.2v38.0M1492.3 396.8l26.9 26.9M1492.3 423.6l26.9 -26.9M1491.3 384.7h38.0M1510.3 365.7v38.0M1496.9 371.3l26.9 26.9M1496.9 398.1l26.9 -26.9M1496.0 379.6h38.0M1515.0 360.6v38.0M1501.5 366.2l26.9 26.9M1501.5 393.0l26.9 -26.9M1500.6 371.7h38.0M1519.6 352.7v38.0M1506.2 358.3l26.9 26.9M1506.2 385.2l26.9 -26.9M1505.2 384.7h38.0M1524.2 365.7v38.0M1510.8 371.3l26.9 26.9M1510.8 398.1l26.9 -26.9M1509.8 392.9h38.0M1528.8 373.9v38.0M1515.4 379.5l26.9 26.9M1515.4 406.4l26.9 -26.9M1514.5 389.8h38.0M1533.5 370.8v38.0M1520.0 376.4l26.9 26.9M1520.0 403.2l26.9 -26.9M1519.1 382.5h38.0M1538.1 363.5v38.0M1524.6 369.0l26.9 26.9M1524.6 395.9l26.9 -26.9M1523.7 379.6h38.0M1542.7 360.6v38.0M1529.3 366.2l26.9 26.9M1529.3 393.0l26.9 -26.9M1528.3 391.5h38.0M1547.3 372.5v38.0M1533.9 378.1l26.9 26.9M1533.9 405.0l26.9 -26.9M1532.9 394.9h38.0M1551.9 375.9v38.0M1538.5 381.5l26.9 26.9M1538.5 408.3l26.9 -26.9M1537.6 404.2h38.0M1556.6 385.2v38.0M1543.1 390.7l26.9 26.9M1543.1 417.6l26.9 -26.9M1542.2 400.0h38.0M1561.2 381.0v38.0M1547.7 386.6l26.9 26.9M1547.7 413.4l26.9 -26.9M1546.8 408.0h38.0M1565.8 389.0v38.0M1552.4 394.6l26.9 26.9M1552.4 421.4l26.9 -26.9M1551.4 384.7h38.0M1570.4 365.7v38.0M1557.0 371.3l26.9 26.9M1557.0 398.1l26.9 -26.9M1556.0 395.3h38.0M1575.0 376.3v38.0M1561.6 381.9l26.9 26.9M1561.6 408.8l26.9 -26.9M1560.7 369.4h38.0M1579.7 350.4v38.0M1566.2 356.0l26.9 26.9M1566.2 382.8l26.9 -26.9M1565.3 377.6h38.0M1584.3 358.6v38.0M1570.8 364.2l26.9 26.9M1570.8 391.0l26.9 -26.9M1569.9 354.1h38.0M1588.9 335.1v38.0M1575.5 340.7l26.9 26.9M1575.5 367.5l26.9 -26.9M1574.5 346.4h38.0M1593.5 327.4v38.0M1580.1 333.0l26.9 26.9M1580.1 359.9l26.9 -26.9M1579.1 350.5h38.0M1598.1 331.5v38.0M1584.7 337.1l26.9 26.9M1584.7 363.9l26.9 -26.9M1583.8 359.2h38.0M1602.8 340.2v38.0M1589.3 345.8l26.9 26.9M1589.3 372.6l26.9 -26.9M1588.4 379.0h38.0M1607.4 360.0v38.0M1594.0 365.6l26.9 26.9M1594.0 392.4l26.9 -26.9M1593.0 364.3h38.0M1612.0 345.3v38.0M1598.6 350.9l26.9 26.9M1598.6 377.7l26.9 -26.9M1597.6 354.1h38.0M1616.6 335.1v38.0M1603.2 340.7l26.9 26.9M1603.2 367.5l26.9 -26.9M1602.3 375.3h38.0M1621.3 356.3v38.0M1607.8 361.8l26.9 26.9M1607.8 388.7l26.9 -26.9M1606.9 349.0h38.0M1625.9 330.0v38.0M1612.4 335.6l26.9 26.9M1612.4 362.4l26.9 -26.9M1611.5 358.5h38.0M1630.5 339.5v38.0M1617.1 345.1l26.9 26.9M1617.1 371.9l26.9 -26.9M1616.1 343.9h38.0M1635.1 324.9v38.0M1621.7 330.5l26.9 26.9M1621.7 357.3l26.9 -26.9M1620.7 369.4h38.0M1639.7 350.4v38.0M1626.3 356.0l26.9 26.9M1626.3 382.8l26.9 -26.9M1625.4 359.6h38.0M1644.4 340.6v38.0M1630.9 346.1l26.9 26.9M1630.9 373.0l26.9 -26.9M1630.0 361.8h38.0M1649.0 342.8v38.0M1635.5 348.3l26.9 26.9M1635.5 375.2l26.9 -26.9M1634.6 357.9h38.0M1653.6 338.9v38.0M1640.2 344.5l26.9 26.9M1640.2 371.4l26.9 -26.9M1639.2 371.9h38.0M1658.2 352.9v38.0M1644.8 358.5l26.9 26.9M1644.8 385.4l26.9 -26.9M1643.8 379.6h38.0M1662.8 360.6v38.0M1649.4 366.2l26.9 26.9M1649.4 393.0l26.9 -26.9M1648.5 394.2h38.0M1667.5 375.2v38.0M1654.0 380.8l26.9 26.9M1654.0 407.7l26.9 -26.9M1653.1 384.7h38.0M1672.1 365.7v38.0M1658.7 371.3l26.9 26.9M1658.7 398.1l26.9 -26.9M1657.7 418.9h38.0M1676.7 399.9v38.0M1663.3 405.5l26.9 26.9M1663.3 432.3l26.9 -26.9M1662.3 392.4h38.0M1681.3 373.4v38.0M1667.9 378.9l26.9 26.9M1667.9 405.8l26.9 -26.9M1667.0 413.7h38.0M1686.0 394.7v38.0M1672.5 400.2l26.9 26.9M1672.5 427.1l26.9 -26.9M1671.6 405.1h38.0M1690.6 386.1v38.0M1677.1 391.7l26.9 26.9M1677.1 418.5l26.9 -26.9M1676.2 428.5h38.0M1695.2 409.5v38.0M1681.8 415.0l26.9 26.9M1681.8 441.9l26.9 -26.9M1680.8 420.4h38.0M1699.8 401.4v38.0M1686.4 407.0l26.9 26.9M1686.4 433.8l26.9 -26.9M1685.4 445.2h38.0M1704.4 426.2v38.0M1691.0 431.8l26.9 26.9M1691.0 458.6l26.9 -26.9M1690.1 430.6h38.0M1709.1 411.6v38.0M1695.6 417.2l26.9 26.9M1695.6 444.0l26.9 -26.9M1694.7 434.7h38.0M1713.7 415.7v38.0M1700.2 421.3l26.9 26.9M1700.2 448.2l26.9 -26.9M1699.3 433.1h38.0M1718.3 414.1v38.0M1704.9 419.7l26.9 26.9M1704.9 446.6l26.9 -26.9M1703.9 424.7h38.0M1722.9 405.7v38.0M1709.5 411.3l26.9 26.9M1709.5 438.2l26.9 -26.9M1708.5 433.1h38.0M1727.5 414.1v38.0M1714.1 419.7l26.9 26.9M1714.1 446.6l26.9 -26.9M1713.2 435.7h38.0M1732.2 416.7v38.0M1718.7 422.3l26.9 26.9M1718.7 449.1l26.9 -26.9M1717.8 416.5h38.0M1736.8 397.5v38.0M1723.4 403.0l26.9 26.9M1723.4 429.9l26.9 -26.9M1722.4 410.2h38.0M1741.4 391.2v38.0M1728.0 396.8l26.9 26.9M1728.0 423.6l26.9 -26.9M1727.0 396.4h38.0M1746.0 377.4v38.0M1732.6 383.0l26.9 26.9M1732.6 409.8l26.9 -26.9M1731.6 394.9h38.0M1750.6 375.9v38.0M1737.2 381.5l26.9 26.9M1737.2 408.3l26.9 -26.9M1736.3 392.3h38.0M1755.3 373.3v38.0M1741.8 378.9l26.9 26.9M1741.8 405.8l26.9 -26.9M1740.9 405.1h38.0M1759.9 386.1v38.0M1746.5 391.7l26.9 26.9M1746.5 418.5l26.9 -26.9M1745.5 421.4h38.0M1764.5 402.4v38.0M1751.1 408.0l26.9 26.9M1751.1 434.9l26.9 -26.9M1750.1 407.3h38.0M1769.1 388.3v38.0M1755.7 393.8l26.9 26.9M1755.7 420.7l26.9 -26.9M1754.8 431.6h38.0M1773.8 412.6v38.0M1760.3 418.2l26.9 26.9M1760.3 445.1l26.9 -26.9M1759.4 409.3h38.0M1778.4 390.3v38.0M1764.9 395.9l26.9 26.9M1764.9 422.7l26.9 -26.9M1764.0 421.4h38.0M1783.0 402.4v38.0M1769.6 408.0l26.9 26.9M1769.6 434.9l26.9 -26.9M1768.6 398.7h38.0M1787.6 379.7v38.0M1774.2 385.2l26.9 26.9M1774.2 412.1l26.9 -26.9M1773.2 406.1h38.0M1792.2 387.1v38.0M1778.8 392.7l26.9 26.9M1778.8 419.6l26.9 -26.9M1777.9 394.6h38.0M1796.9 375.6v38.0M1783.4 381.1l26.9 26.9M1783.4 408.0l26.9 -26.9M1782.5 411.2h38.0M1801.5 392.2v38.0M1788.0 397.8l26.9 26.9M1788.0 424.7l26.9 -26.9M1787.1 424.8h38.0M1806.1 405.8v38.0M1792.7 411.4l26.9 26.9M1792.7 438.3l26.9 -26.9M1791.7 426.5h38.0M1810.7 407.5v38.0M1797.3 413.1l26.9 26.9M1797.3 440.0l26.9 -26.9M1796.3 410.7h38.0M1815.3 391.7v38.0M1801.9 397.2l26.9 26.9M1801.9 424.1l26.9 -26.9M1801.0 411.2h38.0M1820.0 392.2v38.0M1806.5 397.8l26.9 26.9M1806.5 424.7l26.9 -26.9M1805.6 395.0h38.0M1824.6 376.0v38.0M1811.2 381.5l26.9 26.9M1811.2 408.4l26.9 -26.9M1810.2 406.1h38.0M1829.2 387.1v38.0M1815.8 392.7l26.9 26.9M1815.8 419.6l26.9 -26.9M1814.8 415.3h38.0M1833.8 396.3v38.0M1820.4 401.9l26.9 26.9M1820.4 428.7l26.9 -26.9M1819.5 404.8h38.0M1838.5 385.8v38.0M1825.0 391.3l26.9 26.9M1825.0 418.2l26.9 -26.9M1824.1 420.4h38.0M1843.1 401.4v38.0M1829.6 407.0l26.9 26.9M1829.6 433.8l26.9 -26.9M1828.7 440.8h38.0M1847.7 421.8v38.0M1834.3 427.4l26.9 26.9M1834.3 454.2l26.9 -26.9M1833.3 461.2h38.0M1852.3 442.2v38.0M1838.9 447.8l26.9 26.9M1838.9 474.6l26.9 -26.9M1837.9 476.5h38.0M1856.9 457.5v38.0M1843.5 463.1l26.9 26.9M1843.5 489.9l26.9 -26.9M1842.6 481.6h38.0M1861.6 462.6v38.0M1848.1 468.2l26.9 26.9M1848.1 495.0l26.9 -26.9M1847.2 479.0h38.0M1866.2 460.0v38.0M1852.7 465.6l26.9 26.9M1852.7 492.5l26.9 -26.9M1851.8 461.2h38.0M1870.8 442.2v38.0M1857.4 447.8l26.9 26.9M1857.4 474.6l26.9 -26.9M1856.4 440.8h38.0M1875.4 421.8v38.0M1862.0 427.4l26.9 26.9M1862.0 454.2l26.9 -26.9M1861.0 425.5h38.0M1880.0 406.5v38.0M1866.6 412.1l26.9 26.9M1866.6 438.9l26.9 -26.9M1865.7 412.8h38.0M1884.7 393.8v38.0M1871.2 399.3l26.9 26.9M1871.2 426.2l26.9 -26.9M1870.3 410.2h38.0M1889.3 391.2v38.0M1875.9 396.8l26.9 26.9M1875.9 423.6l26.9 -26.9M1874.9 394.9h38.0M1893.9 375.9v38.0M1880.5 381.5l26.9 26.9M1880.5 408.3l26.9 -26.9M1879.5 379.6h38.0M1898.5 360.6v38.0M1885.1 366.2l26.9 26.9M1885.1 393.0l26.9 -26.9M1884.2 347.5h38.0M1903.2 328.5v38.0M1889.7 334.0l26.9 26.9M1889.7 360.9l26.9 -26.9" fill="none" stroke="#0072BD" stroke-width="4.2"/>
<polyline points="244.1,441.1 248.7,434.8 253.4,430.9 258.0,454.3 262.6,428.6 267.2,440.3 271.8,398.5 276.5,377.5 281.1,368.3 285.7,386.8 290.3,381.1 295.0,414.3 299.6,434.7 304.2,418.5 308.8,435.9 313.4,442.7 318.1,439.6 322.7,428.6 327.3,441.3 331.9,405.1 336.5,376.0 341.2,368.4 345.8,382.5 350.4,384.1 355.0,382.9 359.7,417.3 364.3,409.5 368.9,430.1 373.5,425.0 378.1,437.1 382.8,431.8 387.4,434.2 392.0,419.5 396.6,424.4 401.2,421.3 405.9,422.2 410.5,411.7 415.1,399.6 419.7,411.2 424.4,440.0 429.0,432.4 433.6,444.9 438.2,431.4 442.8,424.0 447.5,386.9 452.1,372.4 456.7,366.5 461.3,371.9 465.9,378.1 470.6,428.6 475.2,401.8 479.8,401.1 484.4,395.9 489.0,387.5 493.7,387.4 498.3,374.7 502.9,375.0 507.5,356.6 512.2,305.9 516.8,300.0 521.4,291.7 526.0,293.5 530.6,313.8 535.3,276.5 539.9,279.5 544.5,287.8 549.1,267.4 553.7,243.9 558.4,235.3 563.0,222.0 567.6,194.5 572.2,212.8 576.9,223.0 581.5,243.5 586.1,252.6 590.7,278.8 595.3,289.3 600.0,320.9 604.6,286.8 609.2,324.2 613.8,333.2 618.4,329.9 623.1,324.0 627.7,346.4 632.3,355.5 636.9,364.2 641.5,372.8 646.2,368.1 650.8,370.1 655.4,376.0 660.0,367.3 664.7,349.0 669.3,364.5 673.9,377.1 678.5,363.4 683.1,383.2 687.8,438.8 692.4,494.4 697.0,551.0 701.6,622.9 706.2,639.7 710.9,634.1 715.5,616.2 720.1,499.4 724.7,384.7 729.4,287.3 734.0,228.1 738.6,175.1 743.2,215.9 747.8,188.9 752.5,251.6 757.1,243.4 761.7,222.2 766.3,235.7 770.9,237.8 775.6,259.7 780.2,286.8 784.8,303.5 789.4,341.3 794.0,341.3 798.7,305.6 803.3,278.6 807.9,268.9 812.5,227.6 817.2,205.2 821.8,195.4 826.4,197.0 831.0,238.3 835.6,229.7 840.3,272.6 844.9,290.8 849.5,351.0 854.1,333.7 858.7,347.1 863.4,342.9 868.0,373.5 872.6,347.4 877.2,310.7 881.9,319.1 886.5,329.6 891.1,308.0 895.7,306.7 900.3,335.1 905.0,315.2 909.6,347.3 914.2,328.1 918.8,349.0 923.4,336.4 928.1,320.4 932.7,324.0 937.3,350.5 941.9,340.5 946.6,337.5 951.2,343.9 955.8,361.6 960.4,359.2 965.0,372.9 969.7,422.9 974.3,403.8 978.9,431.1 983.5,398.1 988.1,393.6 992.8,382.0 997.4,366.2 1002.0,362.2 1006.6,382.1 1011.2,361.0 1015.9,343.9 1020.5,370.9 1025.1,337.3 1029.7,366.4 1034.4,374.8 1039.0,376.8 1043.6,362.3 1048.2,377.2 1052.8,408.2 1057.5,407.6 1062.1,348.8 1066.7,320.5 1071.3,294.4 1075.9,299.5 1080.6,338.8 1085.2,379.5 1089.8,420.9 1094.4,417.7 1099.1,416.3 1103.7,431.8 1108.3,413.7 1112.9,436.4 1117.5,441.9 1122.2,420.5 1126.8,418.8 1131.4,410.5 1136.0,430.3 1140.6,430.1 1145.3,422.2 1149.9,432.9 1154.5,422.8 1159.1,406.8 1163.8,446.4 1168.4,386.7 1173.0,416.1 1177.6,412.2 1182.2,435.7 1186.9,437.2 1191.5,477.7 1196.1,494.7 1200.7,471.4 1205.3,476.3 1210.0,457.7 1214.6,472.4 1219.2,458.0 1223.8,451.7 1228.4,442.4 1233.1,460.7 1237.7,445.5 1242.3,467.3 1246.9,430.7 1251.6,420.7 1256.2,423.1 1260.8,419.2 1265.4,436.7 1270.0,408.9 1274.7,425.5 1279.3,447.4 1283.9,457.5 1288.5,455.8 1293.1,474.7 1297.8,487.1 1302.4,473.4 1307.0,456.9 1311.6,467.8 1316.3,446.2 1320.9,461.7 1325.5,433.4 1330.1,437.0 1334.7,441.3 1339.4,433.2 1344.0,458.6 1348.6,416.5 1353.2,398.9 1357.8,391.3 1362.5,437.1 1367.1,398.8 1371.7,379.1 1376.3,399.0 1380.9,378.6 1385.6,318.7 1390.2,300.1 1394.8,303.7 1399.4,293.4 1404.1,325.7 1408.7,336.9 1413.3,352.9 1417.9,392.3 1422.5,359.5 1427.2,378.2 1431.8,360.2 1436.4,380.8 1441.0,379.5 1445.6,393.9 1450.3,357.3 1454.9,358.4 1459.5,344.9 1464.1,333.7 1468.8,337.1 1473.4,326.2 1478.0,365.3 1482.6,319.4 1487.2,335.0 1491.9,340.3 1496.5,395.6 1501.1,406.1 1505.7,434.2 1510.3,413.3 1515.0,385.8 1519.6,368.5 1524.2,370.4 1528.8,399.7 1533.5,400.5 1538.1,390.1 1542.7,374.3 1547.3,380.3 1551.9,375.5 1556.6,399.5 1561.2,396.7 1565.8,425.8 1570.4,395.2 1575.0,397.8 1579.7,386.2 1584.3,377.7 1588.9,344.9 1593.5,373.0 1598.1,342.4 1602.8,345.9 1607.4,372.9 1612.0,377.6 1616.6,375.0 1621.3,369.8 1625.9,365.8 1630.5,354.5 1635.1,359.0 1639.7,342.9 1644.4,362.1 1649.0,376.3 1653.6,357.7 1658.2,386.2 1662.8,368.9 1667.5,391.2 1672.1,401.5 1676.7,403.6 1681.3,407.7 1686.0,404.8 1690.6,421.9 1695.2,422.6 1699.8,402.6 1704.4,430.9 1709.1,440.9 1713.7,427.5 1718.3,429.0 1722.9,424.5 1727.5,426.8 1732.2,427.0 1736.8,417.2 1741.4,433.7 1746.0,398.9 1750.6,392.7 1755.3,407.4 1759.9,392.8 1764.5,408.7 1769.1,405.7 1773.8,421.4 1778.4,423.6 1783.0,436.2 1787.6,397.2 1792.2,414.1 1796.9,397.2 1801.5,395.4 1806.1,409.5 1810.7,431.8 1815.3,414.0 1820.0,429.1 1824.6,390.6 1829.2,401.3 1833.8,399.5 1838.5,406.3 1843.1,406.6 1847.7,436.6 1852.3,451.6 1856.9,490.8 1861.6,477.1 1866.2,467.3 1870.8,449.0 1875.4,461.7 1880.0,453.0 1884.7,413.7 1889.3,402.6 1893.9,408.2 1898.5,376.5 1903.2,387.8" fill="none" stroke="#D95319" stroke-width="4.2" stroke-linejoin="round"/>
<path d="M226.5 441.1a17.6 17.6 0 1 0 35.2 0a17.6 17.6 0 1 0 -35.2 0M231.1 434.8a17.6 17.6 0 1 0 35.2 0a17.6 17.6 0 1 0 -35.2 0M235.8 430.9a17.6 17.6 0 1 0 35.2 0a17.6 17.6 0 1 0 -35.2 0M240.4 454.3a17.6 17.6 0 1 0 35.2 0a17.6 17.6 0 1 0 -35.2 0M245.0 428.6a17.6 17.6 0 1 0 35.2 0a17.6 17.6 0 1 0 -35.2 0M249.6 440.3a17.6 17.6 0 1 0 35.2 0a17.6 17.6 0 1 0 -35.2 0M254.2 398.5a17.6 17.6 0 1 0 35.2 0a17.6 17.6 0 1 0 -35.2 0M258.9 377.5a17.6 17.6 0 1 0 35.2 0a17.6 17.6 0 1 0 -35.2 0M263.5 368.3a17.6 17.6 0 1 0 35.2 0a17.6 17.6 0 1 0 -35.2 0M268.1 386.8a17.6 17.6 0 1 0 35.2 0a17.6 17.6 0 1 0 -35.2 0M272.7 381.1a17.6 17.6 0 1 0 35.2 0a17.6 17.6 0 1 0 -35.2 0M277.4 414.3a17.6 17.6 0 1 0 35.2 0a17.6 17.6 0 1 0 -35.2 0M282.0 434.7a17.6 17.6 0 1 0 35.2 0a17.6 17.6 0 1 0 -35.2 0M286.6 418.5a17.6 17.6 0 1 0 35.2 0a17.6 17.6 0 1 0 -35.2 0M291.2 435.9a17.6 17.6 0 1 0 35.2 0a17.6 17.6 0 1 0 -35.2 0M295.8 442.7a17.6 17.6 0 1 0 35.2 0a17.6 17.6 0 1 0 -35.2 0M300.5 439.6a17.6 17.6 0 1 0 35.2 0a17.6 17.6 0 1 0 -35.2 0M305.1 428.6a17.6 17.6 0 1 0 35.2 0a17.6 17.6 0 1 0 -35.2 0M309.7 441.3a17.6 17.6 0 1 0 35.2 0a17.6 17.6 0 1 0 -35.2 0M314.3 405.1a17.6 17.6 0 1 0 35.2 0a17.6 17.6 0 1 0 -35.2 0M318.9 376.0a17.6 17.6 0 1 0 35.2 0a17.6 17.6 0 1 0 -35.2 0M323.6 368.4a17.6 17.6 0 1 0 35.2 0a17.6 17.6 0 1 0 -35.2 0M328.2 382.5a17.6 17.6 0 1 0 35.2 0a17.6 17.6 0 1 0 -35.2 0M332.8 384.1a17.6 17.6 0 1 0 35.2 0a17.6 17.6 0 1 0 -35.2 0M337.4 382.9a17.6 17.6 0 1 0 35.2 0a17.6 17.6 0 1 0 -35.2 0M342.1 417.3a17.6 17.6 0 1 0 35.2 0a17.6 17.6 0 1 0 -35.2 0M346.7 409.5a17.6 17.6 0 1 0 35.2 0a17.6 17.6 0 1 0 -35.2 0M351.3 430.1a17.6 17.6 0 1 0 35.2 0a17.6 17.6 0 1 0 -35.2 0M355.9 425.0a17.6 17.6 0 1 0 35.2 0a17.6 17.6 0 1 0 -35.2 0M360.5 437.1a17.6 17.6 0 1 0 35.2 0a17.6 17.6 0 1 0 -35.2 0M365.2 431.8a17.6 17.6 0 1 0 35.2 0a17.6 17.6 0 1 0 -35.2 0M369.8 434.2a17.6 17.6 0 1 0 35.2 0a17.6 17.6 0 1 0 -35.2 0M374.4 419.5a17.6 17.6 0 1 0 35.2 0a17.6 17.6 0 1 0 -35.2 0M379.0 424.4a17.6 17.6 0 1 0 35.2 0a17.6 17.6 0 1 0 -35.2 0M383.6 421.3a17.6 17.6 0 1 0 35.2 0a17.6 17.6 0 1 0 -35.2 0M388.3 422.2a17.6 17.6 0 1 0 35.2 0a17.6 17.6 0 1 0 -35.2 0M392.9 411.7a17.6 17.6 0 1 0 35.2 0a17.6 17.6 0 1 0 -35.2 0M397.5 399.6a17.6 17.6 0 1 0 35.2 0a17.6 17.6 0 1 0 -35.2 0M402.1 411.2a17.6 17.6 0 1 0 35.2 0a17.6 17.6 0 1 0 -35.2 0M406.8 440.0a17.6 17.6 0 1 0 35.2 0a17.6 17.6 0 1 0 -35.2 0M411.4 432.4a17.6 17.6 0 1 0 35.2 0a17.6 17.6 0 1 0 -35.2 0M416.0 444.9a17.6 17.6 0 1 0 35.2 0a17.6 17.6 0 1 0 -35.2 0M420.6 431.4a17.6 17.6 0 1 0 35.2 0a17.6 17.6 0 1 0 -35.2 0M425.2 424.0a17.6 17.6 0 1 0 35.2 0a17.6 17.6 0 1 0 -35.2 0M429.9 386.9a17.6 17.6 0 1 0 35.2 0a17.6 17.6 0 1 0 -35.2 0M434.5 372.4a17.6 17.6 0 1 0 35.2 0a17.6 17.6 0 1 0 -35.2 0M439.1 366.5a17.6 17.6 0 1 0 35.2 0a17.6 17.6 0 1 0 -35.2 0M443.7 371.9a17.6 17.6 0 1 0 35.2 0a17.6 17.6 0 1 0 -35.2 0M448.3 378.1a17.6 17.6 0 1 0 35.2 0a17.6 17.6 0 1 0 -35.2 0M453.0 428.6a17.6 17.6 0 1 0 35.2 0a17.6 17.6 0 1 0 -35.2 0M457.6 401.8a17.6 17.6 0 1 0 35.2 0a17.6 17.6 0 1 0 -35.2 0M462.2 401.1a17.6 17.6 0 1 0 35.2 0a17.6 17.6 0 1 0 -35.2 0M466.8 395.9a17.6 17.6 0 1 0 35.2 0a17.6 17.6 0 1 0 -35.2 0M471.4 387.5a17.6 17.6 0 1 0 35.2 0a17.6 17.6 0 1 0 -35.2 0M476.1 387.4a17.6 17.6 0 1 0 35.2 0a17.6 17.6 0 1 0 -35.2 0M480.7 374.7a17.6 17.6 0 1 0 35.2 0a17.6 17.6 0 1 0 -35.2 0M485.3 375.0a17.6 17.6 0 1 0 35.2 0a17.6 17.6 0 1 0 -35.2 0M489.9 356.6a17.6 17.6 0 1 0 35.2 0a17.6 17.6 0 1 0 -35.2 0M494.6 305.9a17.6 17.6 0 1 0 35.2 0a17.6 17.6 0 1 0 -35.2 0M499.2 300.0a17.6 17.6 0 1 0 35.2 0a17.6 17.6 0 1 0 -35.2 0M503.8 291.7a17.6 17.6 0 1 0 35.2 0a17.6 17.6 0 1 0 -35.2 0M508.4 293.5a17.6 17.6 0 1 0 35.2 0a17.6 17.6 0 1 0 -35.2 0M513.0 313.8a17.6 17.6 0 1 0 35.2 0a17.6 17.6 0 1 0 -35.2 0M517.7 276.5a17.6 17.6 0 1 0 35.2 0a17.6 17.6 0 1 0 -35.2 0M522.3 279.5a17.6 17.6 0 1 0 35.2 0a17.6 17.6 0 1 0 -35.2 0M526.9 287.8a17.6 17.6 0 1 0 35.2 0a17.6 17.6 0 1 0 -35.2 0M531.5 267.4a17.6 17.6 0 1 0 35.2 0a17.6 17.6 0 1 0 -35.2 0M536.1 243.9a17.6 17.6 0 1 0 35.2 0a17.6 17.6 0 1 0 -35.2 0M540.8 235.3a17.6 17.6 0 1 0 35.2 0a17.6 17.6 0 1 0 -35.2 0M545.4 222.0a17.6 17.6 0 1 0 35.2 0a17.6 17.6 0 1 0 -35.2 0M550.0 194.5a17.6 17.6 0 1 0 35.2 0a17.6 17.6 0 1 0 -35.2 0M554.6 212.8a17.6 17.6 0 1 0 35.2 0a17.6 17.6 0 1 0 -35.2 0M559.3 223.0a17.6 17.6 0 1 0 35.2 0a17.6 17.6 0 1 0 -35.2 0M563.9 243.5a17.6 17.6 0 1 0 35.2 0a17.6 17.6 0 1 0 -35.2 0M568.5 252.6a17.6 17.6 0 1 0 35.2 0a17.6 17.6 0 1 0 -35.2 0M573.1 278.8a17.6 17.6 0 1 0 35.2 0a17.6 17.6 0 1 0 -35.2 0M577.7 289.3a17.6 17.6 0 1 0 35.2 0a17.6 17.6 0 1 0 -35.2 0M582.4 320.9a17.6 17.6 0 1 0 35.2 0a17.6 17.6 0 1 0 -35.2 0M587.0 286.8a17.6 17.6 0 1 0 35.2 0a17.6 17.6 0 1 0 -35.2 0M591.6 324.2a17.6 17.6 0 1 0 35.2 0a17.6 17.6 0 1 0 -35.2 0M596.2 333.2a17.6 17.6 0 1 0 35.2 0a17.6 17.6 0 1 0 -35.2 0M600.8 329.9a17.6 17.6 0 1 0 35.2 0a17.6 17.6 0 1 0 -35.2 0M605.5 324.0a17.6 17.6 0 1 0 35.2 0a17.6 17.6 0 1 0 -35.2 0M610.1 346.4a17.6 17.6 0 1 0 35.2 0a17.6 17.6 0 1 0 -35.2 0M614.7 355.5a17.6 17.6 0 1 0 35.2 0a17.6 17.6 0 1 0 -35.2 0M619.3 364.2a17.6 17.6 0 1 0 35.2 0a17.6 17.6 0 1 0 -35.2 0M623.9 372.8a17.6 17.6 0 1 0 35.2 0a17.6 17.6 0 1 0 -35.2 0M628.6 368.1a17.6 17.6 0 1 0 35.2 0a17.6 17.6 0 1 0 -35.2 0M633.2 370.1a17.6 17.6 0 1 0 35.2 0a17.6 17.6 0 1 0 -35.2 0M637.8 376.0a17.6 17.6 0 1 0 35.2 0a17.6 17.6 0 1 0 -35.2 0M642.4 367.3a17.6 17.6 0 1 0 35.2 0a17.6 17.6 0 1 0 -35.2 0M647.1 349.0a17.6 17.6 0 1 0 35.2 0a17.6 17.6 0 1 0 -35.2 0M651.7 364.5a17.6 17.6 0 1 0 35.2 0a17.6 17.6 0 1 0 -35.2 0M656.3 377.1a17.6 17.6 0 1 0 35.2 0a17.6 17.6 0 1 0 -35.2 0M660.9 363.4a17.6 17.6 0 1 0 35.2 0a17.6 17.6 0 1 0 -35.2 0M665.5 383.2a17.6 17.6 0 1 0 35.2 0a17.6 17.6 0 1 0 -35.2 0M670.2 438.8a17.6 17.6 0 1 0 35.2 0a17.6 17.6 0 1 0 -35.2 0M674.8 494.4a17.6 17.6 0 1 0 35.2 0a17.6 17.6 0 1 0 -35.2 0M679.4 551.0a17.6 17.6 0 1 0 35.2 0a17.6 17.6 0 1 0 -35.2 0M684.0 622.9a17.6 17.6 0 1 0 35.2 0a17.6 17.6 0 1 0 -35.2 0M688.6 639.7a17.6 17.6 0 1 0 35.2 0a17.6 17.6 0 1 0 -35.2 0M693.3 634.1a17.6 17.6 0 1 0 35.2 0a17.6 17.6 0 1 0 -35.2 0M697.9 616.2a17.6 17.6 0 1 0 35.2 0a17.6 17.6 0 1 0 -35.2 0M702.5 499.4a17.6 17.6 0 1 0 35.2 0a17.6 17.6 0 1 0 -35.2 0M707.1 384.7a17.6 17.6 0 1 0 35.2 0a17.6 17.6 0 1 0 -35.2 0M711.8 287.3a17.6 17.6 0 1 0 35.2 0a17.6 17.6 0 1 0 -35.2 0M716.4 228.1a17.6 17.6 0 1 0 35.2 0a17.6 17.6 0 1 0 -35.2 0M721.0 175.1a17.6 17.6 0 1 0 35.2 0a17.6 17.6 0 1 0 -35.2 0M725.6 215.9a17.6 17.6 0 1 0 35.2 0a17.6 17.6 0 1 0 -35.2 0M730.2 188.9a17.6 17.6 0 1 0 35.2 0a17.6 17.6 0 1 0 -35.2 0M734.9 251.6a17.6 17.6 0 1 0 35.2 0a17.6 17.6 0 1 0 -35.2 0M739.5 243.4a17.6 17.6 0 1 0 35.2 0a17.6 17.6 0 1 0 -35.2 0M744.1 222.2a17.6 17.6 0 1 0 35.2 0a17.6 17.6 0 1 0 -35.2 0M748.7 235.7a17.6 17.6 0 1 0 35.2 0a17.6 17.6 0 1 0 -35.2 0M753.3 237.8a17.6 17.6 0 1 0 35.2 0a17.6 17.6 0 1 0 -35.2 0M758.0 259.7a17.6 17.6 0 1 0 35.2 0a17.6 17.6 0 1 0 -35.2 0M762.6 286.8a17.6 17.6 0 1 0 35.2 0a17.6 17.6 0 1 0 -35.2 0M767.2 303.5a17.6 17.6 0 1 0 35.2 0a17.6 17.6 0 1 0 -35.2 0M771.8 341.3a17.6 17.6 0 1 0 35.2 0a17.6 17.6 0 1 0 -35.2 0M776.4 341.3a17.6 17.6 0 1 0 35.2 0a17.6 17.6 0 1 0 -35.2 0M781.1 305.6a17.6 17.6 0 1 0 35.2 0a17.6 17.6 0 1 0 -35.2 0M785.7 278.6a17.6 17.6 0 1 0 35.2 0a17.6 17.6 0 1 0 -35.2 0M790.3 268.9a17.6 17.6 0 1 0 35.2 0a17.6 17.6 0 1 0 -35.2 0M794.9 227.6a17.6 17.6 0 1 0 35.2 0a17.6 17.6 0 1 0 -35.2 0M799.6 205.2a17.6 17.6 0 1 0 35.2 0a17.6 17.6 0 1 0 -35.2 0M804.2 195.4a17.6 17.6 0 1 0 35.2 0a17.6 17.6 0 1 0 -35.2 0M808.8 197.0a17.6 17.6 0 1 0 35.2 0a17.6 17.6 0 1 0 -35.2 0M813.4 238.3a17.6 17.6 0 1 0 35.2 0a17.6 17.6 0 1 0 -35.2 0M818.0 229.7a17.6 17.6 0 1 0 35.2 0a17.6 17.6 0 1 0 -35.2 0M822.7 272.6a17.6 17.6 0 1 0 35.2 0a17.6 17.6 0 1 0 -35.2 0M827.3 290.8a17.6 17.6 0 1 0 35.2 0a17.6 17.6 0 1 0 -35.2 0M831.9 351.0a17.6 17.6 0 1 0 35.2 0a17.6 17.6 0 1 0 -35.2 0M836.5 333.7a17.6 17.6 0 1 0 35.2 0a17.6 17.6 0 1 0 -35.2 0M841.1 347.1a17.6 17.6 0 1 0 35.2 0a17.6 17.6 0 1 0 -35.2 0M845.8 342.9a17.6 17.6 0 1 0 35.2 0a17.6 17.6 0 1 0 -35.2 0M850.4 373.5a17.6 17.6 0 1 0 35.2 0a17.6 17.6 0 1 0 -35.2 0M855.0 347.4a17.6 17.6 0 1 0 35.2 0a17.6 17.6 0 1 0 -35.2 0M859.6 310.7a17.6 17.6 0 1 0 35.2 0a17.6 17.6 0 1 0 -35.2 0M864.3 319.1a17.6 17.6 0 1 0 35.2 0a17.6 17.6 0 1 0 -35.2 0M868.9 329.6a17.6 17.6 0 1 0 35.2 0a17.6 17.6 0 1 0 -35.2 0M873.5 308.0a17.6 17.6 0 1 0 35.2 0a17.6 17.6 0 1 0 -35.2 0M878.1 306.7a17.6 17.6 0 1 0 35.2 0a17.6 17.6 0 1 0 -35.2 0M882.7 335.1a17.6 17.6 0 1 0 35.2 0a17.6 17.6 0 1 0 -35.2 0M887.4 315.2a17.6 17.6 0 1 0 35.2 0a17.6 17.6 0 1 0 -35.2 0M892.0 347.3a17.6 17.6 0 1 0 35.2 0a17.6 17.6 0 1 0 -35.2 0M896.6 328.1a17.6 17.6 0 1 0 35.2 0a17.6 17.6 0 1 0 -35.2 0M901.2 349.0a17.6 17.6 0 1 0 35.2 0a17.6 17.6 0 1 0 -35.2 0M905.8 336.4a17.6 17.6 0 1 0 35.2 0a17.6 17.6 0 1 0 -35.2 0M910.5 320.4a17.6 17.6 0 1 0 35.2 0a17.6 17.6 0 1 0 -35.2 0M915.1 324.0a17.6 17.6 0 1 0 35.2 0a17.6 17.6 0 1 0 -35.2 0M919.7 350.5a17.6 17.6 0 1 0 35.2 0a17.6 17.6 0 1 0 -35.2 0M924.3 340.5a17.6 17.6 0 1 0 35.2 0a17.6 17.6 0 1 0 -35.2 0M929.0 337.5a17.6 17.6 0 1 0 35.2 0a17.6 17.6 0 1 0 -35.2 0M933.6 343.9a17.6 17.6 0 1 0 35.2 0a17.6 17.6 0 1 0 -35.2 0M938.2 361.6a17.6 17.6 0 1 0 35.2 0a17.6 17.6 0 1 0 -35.2 0M942.8 359.2a17.6 17.6 0 1 0 35.2 0a17.6 17.6 0 1 0 -35.2 0M947.4 372.9a17.6 17.6 0 1 0 35.2 0a17.6 17.6 0 1 0 -35.2 0M952.1 422.9a17.6 17.6 0 1 0 35.2 0a17.6 17.6 0 1 0 -35.2 0M956.7 403.8a17.6 17.6 0 1 0 35.2 0a17.6 17.6 0 1 0 -35.2 0M961.3 431.1a17.6 17.6 0 1 0 35.2 0a17.6 17.6 0 1 0 -35.2 0M965.9 398.1a17.6 17.6 0 1 0 35.2 0a17.6 17.6 0 1 0 -35.2 0M970.5 393.6a17.6 17.6 0 1 0 35.2 0a17.6 17.6 0 1 0 -35.2 0M975.2 382.0a17.6 17.6 0 1 0 35.2 0a17.6 17.6 0 1 0 -35.2 0M979.8 366.2a17.6 17.6 0 1 0 35.2 0a17.6 17.6 0 1 0 -35.2 0M984.4 362.2a17.6 17.6 0 1 0 35.2 0a17.6 17.6 0 1 0 -35.2 0M989.0 382.1a17.6 17.6 0 1 0 35.2 0a17.6 17.6 0 1 0 -35.2 0M993.6 361.0a17.6 17.6 0 1 0 35.2 0a17.6 17.6 0 1 0 -35.2 0M998.3 343.9a17.6 17.6 0 1 0 35.2 0a17.6 17.6 0 1 0 -35.2 0M1002.9 370.9a17.6 17.6 0 1 0 35.2 0a17.6 17.6 0 1 0 -35.2 0M1007.5 337.3a17.6 17.6 0 1 0 35.2 0a17.6 17.6 0 1 0 -35.2 0M1012.1 366.4a17.6 17.6 0 1 0 35.2 0a17.6 17.6 0 1 0 -35.2 0M1016.8 374.8a17.6 17.6 0 1 0 35.2 0a17.6 17.6 0 1 0 -35.2 0M1021.4 376.8a17.6 17.6 0 1 0 35.2 0a17.6 17.6 0 1 0 -35.2 0M1026.0 362.3a17.6 17.6 0 1 0 35.2 0a17.6 17.6 0 1 0 -35.2 0M1030.6 377.2a17.6 17.6 0 1 0 35.2 0a17.6 17.6 0 1 0 -35.2 0M1035.2 408.2a17.6 17.6 0 1 0 35.2 0a17.6 17.6 0 1 0 -35.2 0M1039.9 407.6a17.6 17.6 0 1 0 35.2 0a17.6 17.6 0 1 0 -35.2 0M1044.5 348.8a17.6 17.6 0 1 0 35.2 0a17.6 17.6 0 1 0 -35.2 0M1049.1 320.5a17.6 17.6 0 1 0 35.2 0a17.6 17.6 0 1 0 -35.2 0M1053.7 294.4a17.6 17.6 0 1 0 35.2 0a17.6 17.6 0 1 0 -35.2 0M1058.3 299.5a17.6 17.6 0 1 0 35.2 0a17.6 17.6 0 1 0 -35.2 0M1063.0 338.8a17.6 17.6 0 1 0 35.2 0a17.6 17.6 0 1 0 -35.2 0M1067.6 379.5a17.6 17.6 0 1 0 35.2 0a17.6 17.6 0 1 0 -35.2 0M1072.2 420.9a17.6 17.6 0 1 0 35.2 0a17.6 17.6 0 1 0 -35.2 0M1076.8 417.7a17.6 17.6 0 1 0 35.2 0a17.6 17.6 0 1 0 -35.2 0M1081.5 416.3a17.6 17.6 0 1 0 35.2 0a17.6 17.6 0 1 0 -35.2 0M1086.1 431.8a17.6 17.6 0 1 0 35.2 0a17.6 17.6 0 1 0 -35.2 0M1090.7 413.7a17.6 17.6 0 1 0 35.2 0a17.6 17.6 0 1 0 -35.2 0M1095.3 436.4a17.6 17.6 0 1 0 35.2 0a17.6 17.6 0 1 0 -35.2 0M1099.9 441.9a17.6 17.6 0 1 0 35.2 0a17.6 17.6 0 1 0 -35.2 0M1104.6 420.5a17.6 17.6 0 1 0 35.2 0a17.6 17.6 0 1 0 -35.2 0M1109.2 418.8a17.6 17.6 0 1 0 35.2 0a17.6 17.6 0 1 0 -35.2 0M1113.8 410.5a17.6 17.6 0 1 0 35.2 0a17.6 17.6 0 1 0 -35.2 0M1118.4 430.3a17.6 17.6 0 1 0 35.2 0a17.6 17.6 0 1 0 -35.2 0M1123.0 430.1a17.6 17.6 0 1 0 35.2 0a17.6 17.6 0 1 0 -35.2 0M1127.7 422.2a17.6 17.6 0 1 0 35.2 0a17.6 17.6 0 1 0 -35.2 0M1132.3 432.9a17.6 17.6 0 1 0 35.2 0a17.6 17.6 0 1 0 -35.2 0M1136.9 422.8a17.6 17.6 0 1 0 35.2 0a17.6 17.6 0 1 0 -35.2 0M1141.5 406.8a17.6 17.6 0 1 0 35.2 0a17.6 17.6 0 1 0 -35.2 0M1146.2 446.4a17.6 17.6 0 1 0 35.2 0a17.6 17.6 0 1 0 -35.2 0M1150.8 386.7a17.6 17.6 0 1 0 35.2 0a17.6 17.6 0 1 0 -35.2 0M1155.4 416.1a17.6 17.6 0 1 0 35.2 0a17.6 17.6 0 1 0 -35.2 0M1160.0 412.2a17.6 17.6 0 1 0 35.2 0a17.6 17.6 0 1 0 -35.2 0M1164.6 435.7a17.6 17.6 0 1 0 35.2 0a17.6 17.6 0 1 0 -35.2 0M1169.3 437.2a17.6 17.6 0 1 0 35.2 0a17.6 17.6 0 1 0 -35.2 0M1173.9 477.7a17.6 17.6 0 1 0 35.2 0a17.6 17.6 0 1 0 -35.2 0M1178.5 494.7a17.6 17.6 0 1 0 35.2 0a17.6 17.6 0 1 0 -35.2 0M1183.1 471.4a17.6 17.6 0 1 0 35.2 0a17.6 17.6 0 1 0 -35.2 0M1187.7 476.3a17.6 17.6 0 1 0 35.2 0a17.6 17.6 0 1 0 -35.2 0M1192.4 457.7a17.6 17.6 0 1 0 35.2 0a17.6 17.6 0 1 0 -35.2 0M1197.0 472.4a17.6 17.6 0 1 0 35.2 0a17.6 17.6 0 1 0 -35.2 0M1201.6 458.0a17.6 17.6 0 1 0 35.2 0a17.6 17.6 0 1 0 -35.2 0M1206.2 451.7a17.6 17.6 0 1 0 35.2 0a17.6 17.6 0 1 0 -35.2 0M1210.8 442.4a17.6 17.6 0 1 0 35.2 0a17.6 17.6 0 1 0 -35.2 0M1215.5 460.7a17.6 17.6 0 1 0 35.2 0a17.6 17.6 0 1 0 -35.2 0M1220.1 445.5a17.6 17.6 0 1 0 35.2 0a17.6 17.6 0 1 0 -35.2 0M1224.7 467.3a17.6 17.6 0 1 0 35.2 0a17.6 17.6 0 1 0 -35.2 0M1229.3 430.7a17.6 17.6 0 1 0 35.2 0a17.6 17.6 0 1 0 -35.2 0M1234.0 420.7a17.6 17.6 0 1 0 35.2 0a17.6 17.6 0 1 0 -35.2 0M1238.6 423.1a17.6 17.6 0 1 0 35.2 0a17.6 17.6 0 1 0 -35.2 0M1243.2 419.2a17.6 17.6 0 1 0 35.2 0a17.6 17.6 0 1 0 -35.2 0M1247.8 436.7a17.6 17.6 0 1 0 35.2 0a17.6 17.6 0 1 0 -35.2 0M1252.4 408.9a17.6 17.6 0 1 0 35.2 0a17.6 17.6 0 1 0 -35.2 0M1257.1 425.5a17.6 17.6 0 1 0 35.2 0a17.6 17.6 0 1 0 -35.2 0M1261.7 447.4a17.6 17.6 0 1 0 35.2 0a17.6 17.6 0 1 0 -35.2 0M1266.3 457.5a17.6 17.6 0 1 0 35.2 0a17.6 17.6 0 1 0 -35.2 0M1270.9 455.8a17.6 17.6 0 1 0 35.2 0a17.6 17.6 0 1 0 -35.2 0M1275.5 474.7a17.6 17.6 0 1 0 35.2 0a17.6 17.6 0 1 0 -35.2 0M1280.2 487.1a17.6 17.6 0 1 0 35.2 0a17.6 17.6 0 1 0 -35.2 0M1284.8 473.4a17.6 17.6 0 1 0 35.2 0a17.6 17.6 0 1 0 -35.2 0M1289.4 456.9a17.6 17.6 0 1 0 35.2 0a17.6 17.6 0 1 0 -35.2 0M1294.0 467.8a17.6 17.6 0 1 0 35.2 0a17.6 17.6 0 1 0 -35.2 0M1298.7 446.2a17.6 17.6 0 1 0 35.2 0a17.6 17.6 0 1 0 -35.2 0M1303.3 461.7a17.6 17.6 0 1 0 35.2 0a17.6 17.6 0 1 0 -35.2 0M1307.9 433.4a17.6 17.6 0 1 0 35.2 0a17.6 17.6 0 1 0 -35.2 0M1312.5 437.0a17.6 17.6 0 1 0 35.2 0a17.6 17.6 0 1 0 -35.2 0M1317.1 441.3a17.6 17.6 0 1 0 35.2 0a17.6 17.6 0 1 0 -35.2 0M1321.8 433.2a17.6 17.6 0 1 0 35.2 0a17.6 17.6 0 1 0 -35.2 0M1326.4 458.6a17.6 17.6 0 1 0 35.2 0a17.6 17.6 0 1 0 -35.2 0M1331.0 416.5a17.6 17.6 0 1 0 35.2 0a17.6 17.6 0 1 0 -35.2 0M1335.6 398.9a17.6 17.6 0 1 0 35.2 0a17.6 17.6 0 1 0 -35.2 0M1340.2 391.3a17.6 17.6 0 1 0 35.2 0a17.6 17.6 0 1 0 -35.2 0M1344.9 437.1a17.6 17.6 0 1 0 35.2 0a17.6 17.6 0 1 0 -35.2 0M1349.5 398.8a17.6 17.6 0 1 0 35.2 0a17.6 17.6 0 1 0 -35.2 0M1354.1 379.1a17.6 17.6 0 1 0 35.2 0a17.6 17.6 0 1 0 -35.2 0M1358.7 399.0a17.6 17.6 0 1 0 35.2 0a17.6 17.6 0 1 0 -35.2 0M1363.3 378.6a17.6 17.6 0 1 0 35.2 0a17.6 17.6 0 1 0 -35.2 0M1368.0 318.7a17.6 17.6 0 1 0 35.2 0a17.6 17.6 0 1 0 -35.2 0M1372.6 300.1a17.6 17.6 0 1 0 35.2 0a17.6 17.6 0 1 0 -35.2 0M1377.2 303.7a17.6 17.6 0 1 0 35.2 0a17.6 17.6 0 1 0 -35.2 0M1381.8 293.4a17.6 17.6 0 1 0 35.2 0a17.6 17.6 0 1 0 -35.2 0M1386.5 325.7a17.6 17.6 0 1 0 35.2 0a17.6 17.6 0 1 0 -35.2 0M1391.1 336.9a17.6 17.6 0 1 0 35.2 0a17.6 17.6 0 1 0 -35.2 0M1395.7 352.9a17.6 17.6 0 1 0 35.2 0a17.6 17.6 0 1 0 -35.2 0M1400.3 392.3a17.6 17.6 0 1 0 35.2 0a17.6 17.6 0 1 0 -35.2 0M1404.9 359.5a17.6 17.6 0 1 0 35.2 0a17.6 17.6 0 1 0 -35.2 0M1409.6 378.2a17.6 17.6 0 1 0 35.2 0a17.6 17.6 0 1 0 -35.2 0M1414.2 360.2a17.6 17.6 0 1 0 35.2 0a17.6 17.6 0 1 0 -35.2 0M1418.8 380.8a17.6 17.6 0 1 0 35.2 0a17.6 17.6 0 1 0 -35.2 0M1423.4 379.5a17.6 17.6 0 1 0 35.2 0a17.6 17.6 0 1 0 -35.2 0M1428.0 393.9a17.6 17.6 0 1 0 35.2 0a17.6 17.6 0 1 0 -35.2 0M1432.7 357.3a17.6 17.6 0 1 0 35.2 0a17.6 17.6 0 1 0 -35.2 0M1437.3 358.4a17.6 17.6 0 1 0 35.2 0a17.6 17.6 0 1 0 -35.2 0M1441.9 344.9a17.6 17.6 0 1 0 35.2 0a17.6 17.6 0 1 0 -35.2 0M1446.5 333.7a17.6 17.6 0 1 0 35.2 0a17.6 17.6 0 1 0 -35.2 0M1451.2 337.1a17.6 17.6 0 1 0 35.2 0a17.6 17.6 0 1 0 -35.2 0M1455.8 326.2a17.6 17.6 0 1 0 35.2 0a17.6 17.6 0 1 0 -35.2 0M1460.4 365.3a17.6 17.6 0 1 0 35.2 0a17.6 17.6 0 1 0 -35.2 0M1465.0 319.4a17.6 17.6 0 1 0 35.2 0a17.6 17.6 0 1 0 -35.2 0M1469.6 335.0a17.6 17.6 0 1 0 35.2 0a17.6 17.6 0 1 0 -35.2 0M1474.3 340.3a17.6 17.6 0 1 0 35.2 0a17.6 17.6 0 1 0 -35.2 0M1478.9 395.6a17.6 17.6 0 1 0 35.2 0a17.6 17.6 0 1 0 -35.2 0M1483.5 406.1a17.6 17.6 0 1 0 35.2 0a17.6 17.6 0 1 0 -35.2 0M1488.1 434.2a17.6 17.6 0 1 0 35.2 0a17.6 17.6 0 1 0 -35.2 0M1492.7 413.3a17.6 17.6 0 1 0 35.2 0a17.6 17.6 0 1 0 -35.2 0M1497.4 385.8a17.6 17.6 0 1 0 35.2 0a17.6 17.6 0 1 0 -35.2 0M1502.0 368.5a17.6 17.6 0 1 0 35.2 0a17.6 17.6 0 1 0 -35.2 0M1506.6 370.4a17.6 17.6 0 1 0 35.2 0a17.6 17.6 0 1 0 -35.2 0M1511.2 399.7a17.6 17.6 0 1 0 35.2 0a17.6 17.6 0 1 0 -35.2 0M1515.9 400.5a17.6 17.6 0 1 0 35.2 0a17.6 17.6 0 1 0 -35.2 0M1520.5 390.1a17.6 17.6 0 1 0 35.2 0a17.6 17.6 0 1 0 -35.2 0M1525.1 374.3a17.6 17.6 0 1 0 35.2 0a17.6 17.6 0 1 0 -35.2 0M1529.7 380.3a17.6 17.6 0 1 0 35.2 0a17.6 17.6 0 1 0 -35.2 0M1534.3 375.5a17.6 17.6 0 1 0 35.2 0a17.6 17.6 0 1 0 -35.2 0M1539.0 399.5a17.6 17.6 0 1 0 35.2 0a17.6 17.6 0 1 0 -35.2 0M1543.6 396.7a17.6 17.6 0 1 0 35.2 0a17.6 17.6 0 1 0 -35.2 0M1548.2 425.8a17.6 17.6 0 1 0 35.2 0a17.6 17.6 0 1 0 -35.2 0M1552.8 395.2a17.6 17.6 0 1 0 35.2 0a17.6 17.6 0 1 0 -35.2 0M1557.4 397.8a17.6 17.6 0 1 0 35.2 0a17.6 17.6 0 1 0 -35.2 0M1562.1 386.2a17.6 17.6 0 1 0 35.2 0a17.6 17.6 0 1 0 -35.2 0M1566.7 377.7a17.6 17.6 0 1 0 35.2 0a17.6 17.6 0 1 0 -35.2 0M1571.3 344.9a17.6 17.6 0 1 0 35.2 0a17.6 17.6 0 1 0 -35.2 0M1575.9 373.0a17.6 17.6 0 1 0 35.2 0a17.6 17.6 0 1 0 -35.2 0M1580.5 342.4a17.6 17.6 0 1 0 35.2 0a17.6 17.6 0 1 0 -35.2 0M1585.2 345.9a17.6 17.6 0 1 0 35.2 0a17.6 17.6 0 1 0 -35.2 0M1589.8 372.9a17.6 17.6 0 1 0 35.2 0a17.6 17.6 0 1 0 -35.2 0M1594.4 377.6a17.6 17.6 0 1 0 35.2 0a17.6 17.6 0 1 0 -35.2 0M1599.0 375.0a17.6 17.6 0 1 0 35.2 0a17.6 17.6 0 1 0 -35.2 0M1603.7 369.8a17.6 17.6 0 1 0 35.2 0a17.6 17.6 0 1 0 -35.2 0M1608.3 365.8a17.6 17.6 0 1 0 35.2 0a17.6 17.6 0 1 0 -35.2 0M1612.9 354.5a17.6 17.6 0 1 0 35.2 0a17.6 17.6 0 1 0 -35.2 0M1617.5 359.0a17.6 17.6 0 1 0 35.2 0a17.6 17.6 0 1 0 -35.2 0M1622.1 342.9a17.6 17.6 0 1 0 35.2 0a17.6 17.6 0 1 0 -35.2 0M1626.8 362.1a17.6 17.6 0 1 0 35.2 0a17.6 17.6 0 1 0 -35.2 0M1631.4 376.3a17.6 17.6 0 1 0 35.2 0a17.6 17.6 0 1 0 -35.2 0M1636.0 357.7a17.6 17.6 0 1 0 35.2 0a17.6 17.6 0 1 0 -35.2 0M1640.6 386.2a17.6 17.6 0 1 0 35.2 0a17.6 17.6 0 1 0 -35.2 0M1645.2 368.9a17.6 17.6 0 1 0 35.2 0a17.6 17.6 0 1 0 -35.2 0M1649.9 391.2a17.6 17.6 0 1 0 35.2 0a17.6 17.6 0 1 0 -35.2 0M1654.5 401.5a17.6 17.6 0 1 0 35.2 0a17.6 17.6 0 1 0 -35.2 0M1659.1 403.6a17.6 17.6 0 1 0 35.2 0a17.6 17.6 0 1 0 -35.2 0M1663.7 407.7a17.6 17.6 0 1 0 35.2 0a17.6 17.6 0 1 0 -35.2 0M1668.4 404.8a17.6 17.6 0 1 0 35.2 0a17.6 17.6 0 1 0 -35.2 0M1673.0 421.9a17.6 17.6 0 1 0 35.2 0a17.6 17.6 0 1 0 -35.2 0M1677.6 422.6a17.6 17.6 0 1 0 35.2 0a17.6 17.6 0 1 0 -35.2 0M1682.2 402.6a17.6 17.6 0 1 0 35.2 0a17.6 17.6 0 1 0 -35.2 0M1686.8 430.9a17.6 17.6 0 1 0 35.2 0a17.6 17.6 0 1 0 -35.2 0M1691.5 440.9a17.6 17.6 0 1 0 35.2 0a17.6 17.6 0 1 0 -35.2 0M1696.1 427.5a17.6 17.6 0 1 0 35.2 0a17.6 17.6 0 1 0 -35.2 0M1700.7 429.0a17.6 17.6 0 1 0 35.2 0a17.6 17.6 0 1 0 -35.2 0M1705.3 424.5a17.6 17.6 0 1 0 35.2 0a17.6 17.6 0 1 0 -35.2 0M1709.9 426.8a17.6 17.6 0 1 0 35.2 0a17.6 17.6 0 1 0 -35.2 0M1714.6 427.0a17.6 17.6 0 1 0 35.2 0a17.6 17.6 0 1 0 -35.2 0M1719.2 417.2a17.6 17.6 0 1 0 35.2 0a17.6 17.6 0 1 0 -35.2 0M1723.8 433.7a17.6 17.6 0 1 0 35.2 0a17.6 17.6 0 1 0 -35.2 0M1728.4 398.9a17.6 17.6 0 1 0 35.2 0a17.6 17.6 0 1 0 -35.2 0M1733.0 392.7a17.6 17.6 0 1 0 35.2 0a17.6 17.6 0 1 0 -35.2 0M1737.7 407.4a17.6 17.6 0 1 0 35.2 0a17.6 17.6 0 1 0 -35.2 0M1742.3 392.8a17.6 17.6 0 1 0 35.2 0a17.6 17.6 0 1 0 -35.2 0M1746.9 408.7a17.6 17.6 0 1 0 35.2 0a17.6 17.6 0 1 0 -35.2 0M1751.5 405.7a17.6 17.6 0 1 0 35.2 0a17.6 17.6 0 1 0 -35.2 0M1756.2 421.4a17.6 17.6 0 1 0 35.2 0a17.6 17.6 0 1 0 -35.2 0M1760.8 423.6a17.6 17.6 0 1 0 35.2 0a17.6 17.6 0 1 0 -35.2 0M1765.4 436.2a17.6 17.6 0 1 0 35.2 0a17.6 17.6 0 1 0 -35.2 0M1770.0 397.2a17.6 17.6 0 1 0 35.2 0a17.6 17.6 0 1 0 -35.2 0M1774.6 414.1a17.6 17.6 0 1 0 35.2 0a17.6 17.6 0 1 0 -35.2 0M1779.3 397.2a17.6 17.6 0 1 0 35.2 0a17.6 17.6 0 1 0 -35.2 0M1783.9 395.4a17.6 17.6 0 1 0 35.2 0a17.6 17.6 0 1 0 -35.2 0M1788.5 409.5a17.6 17.6 0 1 0 35.2 0a17.6 17.6 0 1 0 -35.2 0M1793.1 431.8a17.6 17.6 0 1 0 35.2 0a17.6 17.6 0 1 0 -35.2 0M1797.7 414.0a17.6 17.6 0 1 0 35.2 0a17.6 17.6 0 1 0 -35.2 0M1802.4 429.1a17.6 17.6 0 1 0 35.2 0a17.6 17.6 0 1 0 -35.2 0M1807.0 390.6a17.6 17.6 0 1 0 35.2 0a17.6 17.6 0 1 0 -35.2 0M1811.6 401.3a17.6 17.6 0 1 0 35.2 0a17.6 17.6 0 1 0 -35.2 0M1816.2 399.5a17.6 17.6 0 1 0 35.2 0a17.6 17.6 0 1 0 -35.2 0M1820.9 406.3a17.6 17.6 0 1 0 35.2 0a17.6 17.6 0 1 0 -35.2 0M1825.5 406.6a17.6 17.6 0 1 0 35.2 0a17.6 17.6 0 1 0 -35.2 0M1830.1 436.6a17.6 17.6 0 1 0 35.2 0a17.6 17.6 0 1 0 -35.2 0M1834.7 451.6a17.6 17.6 0 1 0 35.2 0a17.6 17.6 0 1 0 -35.2 0M1839.3 490.8a17.6 17.6 0 1 0 35.2 0a17.6 17.6 0 1 0 -35.2 0M1844.0 477.1a17.6 17.6 0 1 0 35.2 0a17.6 17.6 0 1 0 -35.2 0M1848.6 467.3a17.6 17.6 0 1 0 35.2 0a17.6 17.6 0 1 0 -35.2 0M1853.2 449.0a17.6 17.6 0 1 0 35.2 0a17.6 17.6 0 1 0 -35.2 0M1857.8 461.7a17.6 17.6 0 1 0 35.2 0a17.6 17.6 0 1 0 -35.2 0M1862.4 453.0a17.6 17.6 0 1 0 35.2 0a17.6 17.6 0 1 0 -35.2 0M1867.1 413.7a17.6 17.6 0 1 0 35.2 0a17.6 17.6 0 1 0 -35.2 0M1871.7 402.6a17.6 17.6 0 1 0 35.2 0a17.6 17.6 0 1 0 -35.2 0M1876.3 408.2a17.6 17.6 0 1 0 35.2 0a17.6 17.6 0 1 0 -35.2 0M1880.9 376.5a17.6 17.6 0 1 0 35.2 0a17.6 17.6 0 1 0 -35.2 0M1885.6 387.8a17.6 17.6 0 1 0 35.2 0a17.6 17.6 0 1 0 -35.2 0" fill="none" stroke="#D95319" stroke-width="4.2"/>
<g stroke="#262626" stroke-width="3" fill="none">
<rect x="239.5" y="43.0" width="1848.5" height="604.0"/>
<path d="M239.5 647.0v-19M239.5 43.0v19M470.6 647.0v-19M470.6 43.0v19M701.6 647.0v-19M701.6 43.0v19M932.7 647.0v-19M932.7 43.0v19M1163.8 647.0v-19M1163.8 43.0v19M1394.8 647.0v-19M1394.8 43.0v19M1625.9 647.0v-19M1625.9 43.0v19M1856.9 647.0v-19M1856.9 43.0v19M2088.0 647.0v-19M2088.0 43.0v19M239.5 553.0h19M2088.0 553.0h-19M239.5 298.0h19M2088.0 298.0h-19M239.5 43.0h19M2088.0 43.0h-19"/>
</g>
<rect x="1620" y="77" width="420" height="141" fill="#fff" stroke="#262626" stroke-width="3"/>
<path d="M1636 116.5h172" stroke="#0072BD" stroke-width="4.2"/>
<path d="M1702.6 116.5h38.0M1721.6 97.5v38.0M1708.2 103.1l26.9 26.9M1708.2 129.9l26.9 -26.9" stroke="#0072BD" stroke-width="4.2"/>
<path d="M1636 178h172" stroke="#D95319" stroke-width="4.2"/>
<circle cx="1721.6" cy="178" r="17.6" fill="none" stroke="#D95319" stroke-width="4.2"/>
<path d="M239.5 1109.5H2088.0" stroke="#262626" stroke-width="3"/>
<path d="M244.1 1109.5V1158.8M248.7 1109.5V1115.7M253.4 1109.5V1076.0M258.0 1109.5V1145.2M262.6 1109.5V1078.7M267.2 1109.5V1261.4M271.8 1109.5V1190.2M276.5 1109.5V1117.0M281.1 1109.5V1085.9M285.7 1109.5V1128.8M290.3 1109.5V990.3M295.0 1109.5V1051.8M299.6 1109.5V1178.7M304.2 1109.5V1073.6M308.8 1109.5V1087.3M313.4 1109.5V1089.8M318.1 1109.5V1108.6M322.7 1109.5V1055.7M327.3 1109.5V1246.0M331.9 1109.5V1215.2M336.5 1109.5V1107.5M341.2 1109.5V1082.8M345.8 1109.5V1116.4M350.4 1109.5V1117.0M355.0 1109.5V1054.6M359.7 1109.5V1159.5M364.3 1109.5V1087.7M368.9 1109.5V1097.9M373.5 1109.5V1046.1M378.1 1109.5V1080.1M382.8 1109.5V1085.4M387.4 1109.5V1180.6M392.0 1109.5V1115.8M396.6 1109.5V1153.6M401.2 1109.5V1084.0M405.9 1109.5V1139.2M410.5 1109.5V1134.3M415.1 1109.5V1060.0M419.7 1109.5V1046.1M424.4 1109.5V1115.9M429.0 1109.5V1068.4M433.6 1109.5V1182.6M438.2 1109.5V1150.8M442.8 1109.5V1261.4M447.5 1109.5V1136.9M452.1 1109.5V1105.3M456.7 1109.5V1079.4M461.3 1109.5V1076.5M465.9 1109.5V1030.7M470.6 1109.5V1201.8M475.2 1109.5V1100.9M479.8 1109.5V1113.6M484.4 1109.5V1117.2M489.0 1109.5V1104.7M493.7 1109.5V1123.5M498.3 1109.5V1129.5M502.9 1109.5V1230.6M507.5 1109.5V1257.5M512.2 1109.5V1124.0M516.8 1109.5V1117.2M521.4 1109.5V1095.2M526.0 1109.5V1088.6M530.6 1109.5V1188.3M535.3 1109.5V1070.8M539.9 1109.5V1120.6M544.5 1109.5V1224.8M549.1 1109.5V1247.9M553.7 1109.5V1236.4M558.4 1109.5V1272.9M563.0 1109.5V1255.6M567.6 1109.5V1088.5M572.2 1109.5V1080.4M576.9 1109.5V1061.4M581.5 1109.5V1081.0M586.1 1109.5V1057.6M590.7 1109.5V1079.5M595.3 1109.5V1080.6M600.0 1109.5V1219.1M604.6 1109.5V1051.8M609.2 1109.5V1154.4M613.8 1109.5V1169.1M618.4 1109.5V1118.4M623.1 1109.5V1038.4M627.7 1109.5V1084.2M632.3 1109.5V1080.3M636.9 1109.5V1093.9M641.5 1109.5V1114.5M646.2 1109.5V1089.3M650.8 1109.5V1108.2M655.4 1109.5V1146.0M660.0 1109.5V1132.2M664.7 1109.5V1051.8M669.3 1109.5V1091.0M673.9 1109.5V1188.3M678.5 1109.5V1109.9M683.1 1109.5V896.1M687.8 1109.5V998.0M692.4 1109.5V1005.7M697.0 1109.5V924.9M701.6 1109.5V1019.1M706.2 1109.5V1086.4M710.9 1109.5V1088.4M715.5 1109.5V1447.9M720.1 1109.5V1409.4M724.7 1109.5V1397.9M729.4 1109.5V1374.8M734.0 1109.5V1467.1M738.6 1109.5V1030.7M743.2 1109.5V1155.6M747.8 1109.5V1034.5M752.5 1109.5V1261.4M757.1 1109.5V1211.4M761.7 1109.5V1092.8M766.3 1109.5V1086.3M770.9 1109.5V1036.4M775.6 1109.5V1061.4M780.2 1109.5V1086.4M784.8 1109.5V1072.6M789.4 1109.5V1138.3M794.0 1109.5V1196.0M798.7 1109.5V1176.8M803.3 1109.5V1190.2M807.9 1109.5V1269.1M812.5 1109.5V1209.5M817.2 1109.5V1172.9M821.8 1109.5V1107.3M826.4 1109.5V1055.5M831.0 1109.5V1134.5M835.6 1109.5V1024.9M840.3 1109.5V1090.6M844.9 1109.5V1063.1M849.5 1109.5V1194.1M854.1 1109.5V1051.8M858.7 1109.5V1073.7M863.4 1109.5V1086.7M868.0 1109.5V1240.2M872.6 1109.5V1162.0M877.2 1109.5V1061.4M881.9 1109.5V1143.7M886.5 1109.5V1209.5M891.1 1109.5V1108.2M895.7 1109.5V1084.5M900.3 1109.5V1161.4M905.0 1109.5V1078.2M909.6 1109.5V1153.9M914.2 1109.5V1083.2M918.8 1109.5V1186.4M923.4 1109.5V1152.5M928.1 1109.5V1092.5M932.7 1109.5V1073.0M937.3 1109.5V1215.2M941.9 1109.5V1116.0M946.6 1109.5V1105.8M951.2 1109.5V1051.8M955.8 1109.5V1108.0M960.4 1109.5V1013.4M965.0 1109.5V1055.7M969.7 1109.5V1176.8M974.3 1109.5V1104.7M978.9 1109.5V1217.2M983.5 1109.5V1086.2M988.1 1109.5V1142.9M992.8 1109.5V1124.0M997.4 1109.5V1078.1M1002.0 1109.5V1103.3M1006.6 1109.5V1176.8M1011.2 1109.5V1136.5M1015.9 1109.5V1051.8M1020.5 1109.5V1122.6M1025.1 1109.5V1046.1M1029.7 1109.5V1051.8M1034.4 1109.5V1148.9M1039.0 1109.5V1055.8M1043.6 1109.5V1063.4M1048.2 1109.5V1064.1M1052.8 1109.5V1255.6M1057.5 1109.5V1282.5M1062.1 1109.5V1147.1M1066.7 1109.5V1146.4M1071.3 1109.5V1028.8M1075.9 1109.5V951.9M1080.6 1109.5V1013.4M1085.2 1109.5V1128.4M1089.8 1109.5V1188.3M1094.4 1109.5V1118.4M1099.1 1109.5V1075.2M1103.7 1109.5V1133.3M1108.3 1109.5V1065.3M1112.9 1109.5V1119.5M1117.5 1109.5V1152.1M1122.2 1109.5V1084.2M1126.8 1109.5V1104.1M1131.4 1109.5V1072.3M1136.0 1109.5V1119.1M1140.6 1109.5V1171.0M1145.3 1109.5V1077.8M1149.9 1109.5V1158.0M1154.5 1109.5V1060.7M1159.1 1109.5V1139.0M1163.8 1109.5V1284.4M1168.4 1109.5V1040.3M1173.0 1109.5V1112.5M1177.6 1109.5V1051.8M1182.2 1109.5V1051.8M1186.9 1109.5V980.7M1191.5 1109.5V1094.7M1196.1 1109.5V1158.8M1200.7 1109.5V1077.5M1205.3 1109.5V1127.9M1210.0 1109.5V1057.6M1214.6 1109.5V1136.3M1219.2 1109.5V1116.9M1223.8 1109.5V1105.6M1228.4 1109.5V1073.8M1233.1 1109.5V1126.9M1237.7 1109.5V1092.6M1242.3 1109.5V1209.5M1246.9 1109.5V1073.3M1251.6 1109.5V1110.7M1256.2 1109.5V1108.4M1260.8 1109.5V1162.5M1265.4 1109.5V1190.2M1270.0 1109.5V1055.7M1274.7 1109.5V1051.8M1279.3 1109.5V1078.9M1283.9 1109.5V1095.7M1288.5 1109.5V1058.6M1293.1 1109.5V1102.5M1297.8 1109.5V1172.9M1302.4 1109.5V1117.1M1307.0 1109.5V1049.9M1311.6 1109.5V1172.9M1316.3 1109.5V1086.5M1320.9 1109.5V1188.3M1325.5 1109.5V1121.7M1330.1 1109.5V1114.3M1334.7 1109.5V1088.9M1339.4 1109.5V1119.2M1344.0 1109.5V1221.0M1348.6 1109.5V1152.5M1353.2 1109.5V1066.7M1357.8 1109.5V1076.8M1362.5 1109.5V1222.9M1367.1 1109.5V1143.4M1371.7 1109.5V1097.7M1376.3 1109.5V1221.0M1380.9 1109.5V1259.5M1385.6 1109.5V1110.7M1390.2 1109.5V1098.1M1394.8 1109.5V1140.7M1399.4 1109.5V1073.1M1404.1 1109.5V1117.9M1408.7 1109.5V1113.2M1413.3 1109.5V1143.4M1417.9 1109.5V1197.9M1422.5 1109.5V1091.4M1427.2 1109.5V1118.7M1431.8 1109.5V1017.2M1436.4 1109.5V1124.8M1441.0 1109.5V1108.9M1445.6 1109.5V1221.0M1450.3 1109.5V1137.5M1454.9 1109.5V1106.6M1459.5 1109.5V1151.7M1464.1 1109.5V1051.8M1468.8 1109.5V1152.1M1473.4 1109.5V1081.3M1478.0 1109.5V1267.1M1482.6 1109.5V1074.9M1487.2 1109.5V1095.2M1491.9 1109.5V980.7M1496.5 1109.5V1092.9M1501.1 1109.5V1017.2M1505.7 1109.5V1199.9M1510.3 1109.5V1217.2M1515.0 1109.5V1133.0M1519.6 1109.5V1097.5M1524.2 1109.5V1055.7M1528.8 1109.5V1135.1M1533.5 1109.5V1149.9M1538.1 1109.5V1138.3M1542.7 1109.5V1089.7M1547.3 1109.5V1067.2M1551.9 1109.5V1036.4M1556.6 1109.5V1091.8M1561.2 1109.5V1097.2M1565.8 1109.5V1176.8M1570.4 1109.5V1149.2M1575.0 1109.5V1119.0M1579.7 1109.5V1172.9M1584.3 1109.5V1110.0M1588.9 1109.5V1074.9M1593.5 1109.5V1209.5M1598.1 1109.5V1078.8M1602.8 1109.5V1059.5M1607.4 1109.5V1086.3M1612.0 1109.5V1159.8M1616.6 1109.5V1188.3M1621.3 1109.5V1088.8M1625.9 1109.5V1172.9M1630.5 1109.5V1094.5M1635.1 1109.5V1166.5M1639.7 1109.5V1009.5M1644.4 1109.5V1119.0M1649.0 1109.5V1164.3M1653.6 1109.5V1108.5M1658.2 1109.5V1163.3M1662.8 1109.5V1069.1M1667.5 1109.5V1097.9M1672.1 1109.5V1172.9M1676.7 1109.5V1051.8M1681.3 1109.5V1167.2M1686.0 1109.5V1076.2M1690.6 1109.5V1172.9M1695.2 1109.5V1087.3M1699.8 1109.5V1042.2M1704.4 1109.5V1055.5M1709.1 1109.5V1148.5M1713.7 1109.5V1082.2M1718.3 1109.5V1093.8M1722.9 1109.5V1108.7M1727.5 1109.5V1085.5M1732.2 1109.5V1076.8M1736.8 1109.5V1112.4M1741.4 1109.5V1197.9M1746.0 1109.5V1119.0M1750.6 1109.5V1101.1M1755.3 1109.5V1166.4M1759.9 1109.5V1063.0M1764.5 1109.5V1061.4M1769.1 1109.5V1103.4M1773.8 1109.5V1071.0M1778.4 1109.5V1163.3M1783.0 1109.5V1165.3M1787.6 1109.5V1103.9M1792.2 1109.5V1139.4M1796.9 1109.5V1119.5M1801.5 1109.5V1049.9M1806.1 1109.5V1051.8M1810.7 1109.5V1129.5M1815.3 1109.5V1122.1M1820.0 1109.5V1176.8M1824.6 1109.5V1093.0M1829.2 1109.5V1091.5M1833.8 1109.5V1049.9M1838.5 1109.5V1115.3M1843.1 1109.5V1057.5M1847.7 1109.5V1093.7M1852.3 1109.5V1073.3M1856.9 1109.5V1163.3M1861.6 1109.5V1092.6M1866.2 1109.5V1065.3M1870.8 1109.5V1063.4M1875.4 1109.5V1188.3M1880.0 1109.5V1213.3M1884.7 1109.5V1112.9M1889.3 1109.5V1080.7M1893.9 1109.5V1159.5M1898.5 1109.5V1098.0M1903.2 1109.5V1261.4" stroke="#0072BD" stroke-width="4.2" fill="none"/>
<path d="M226.5 1158.8a17.6 17.6 0 1 0 35.2 0a17.6 17.6 0 1 0 -35.2 0M231.1 1115.7a17.6 17.6 0 1 0 35.2 0a17.6 17.6 0 1 0 -35.2 0M235.8 1076.0a17.6 17.6 0 1 0 35.2 0a17.6 17.6 0 1 0 -35.2 0M240.4 1145.2a17.6 17.6 0 1 0 35.2 0a17.6 17.6 0 1 0 -35.2 0M245.0 1078.7a17.6 17.6 0 1 0 35.2 0a17.6 17.6 0 1 0 -35.2 0M249.6 1261.4a17.6 17.6 0 1 0 35.2 0a17.6 17.6 0 1 0 -35.2 0M254.2 1190.2a17.6 17.6 0 1 0 35.2 0a17.6 17.6 0 1 0 -35.2 0M258.9 1117.0a17.6 17.6 0 1 0 35.2 0a17.6 17.6 0 1 0 -35.2 0M263.5 1085.9a17.6 17.6 0 1 0 35.2 0a17.6 17.6 0 1 0 -35.2 0M268.1 1128.8a17.6 17.6 0 1 0 35.2 0a17.6 17.6 0 1 0 -35.2 0M272.7 990.3a17.6 17.6 0 1 0 35.2 0a17.6 17.6 0 1 0 -35.2 0M277.4 1051.8a17.6 17.6 0 1 0 35.2 0a17.6 17.6 0 1 0 -35.2 0M282.0 1178.7a17.6 17.6 0 1 0 35.2 0a17.6 17.6 0 1 0 -35.2 0M286.6 1073.6a17.6 17.6 0 1 0 35.2 0a17.6 17.6 0 1 0 -35.2 0M291.2 1087.3a17.6 17.6 0 1 0 35.2 0a17.6 17.6 0 1 0 -35.2 0M295.8 1089.8a17.6 17.6 0 1 0 35.2 0a17.6 17.6 0 1 0 -35.2 0M300.5 1108.6a17.6 17.6 0 1 0 35.2 0a17.6 17.6 0 1 0 -35.2 0M305.1 1055.7a17.6 17.6 0 1 0 35.2 0a17.6 17.6 0 1 0 -35.2 0M309.7 1246.0a17.6 17.6 0 1 0 35.2 0a17.6 17.6 0 1 0 -35.2 0M314.3 1215.2a17.6 17.6 0 1 0 35.2 0a17.6 17.6 0 1 0 -35.2 0M318.9 1107.5a17.6 17.6 0 1 0 35.2 0a17.6 17.6 0 1 0 -35.2 0M323.6 1082.8a17.6 17.6 0 1 0 35.2 0a17.6 17.6 0 1 0 -35.2 0M328.2 1116.4a17.6 17.6 0 1 0 35.2 0a17.6 17.6 0 1 0 -35.2 0M332.8 1117.0a17.6 17.6 0 1 0 35.2 0a17.6 17.6 0 1 0 -35.2 0M337.4 1054.6a17.6 17.6 0 1 0 35.2 0a17.6 17.6 0 1 0 -35.2 0M342.1 1159.5a17.6 17.6 0 1 0 35.2 0a17.6 17.6 0 1 0 -35.2 0M346.7 1087.7a17.6 17.6 0 1 0 35.2 0a17.6 17.6 0 1 0 -35.2 0M351.3 1097.9a17.6 17.6 0 1 0 35.2 0a17.6 17.6 0 1 0 -35.2 0M355.9 1046.1a17.6 17.6 0 1 0 35.2 0a17.6 17.6 0 1 0 -35.2 0M360.5 1080.1a17.6 17.6 0 1 0 35.2 0a17.6 17.6 0 1 0 -35.2 0M365.2 1085.4a17.6 17.6 0 1 0 35.2 0a17.6 17.6 0 1 0 -35.2 0M369.8 1180.6a17.6 17.6 0 1 0 35.2 0a17.6 17.6 0 1 0 -35.2 0M374.4 1115.8a17.6 17.6 0 1 0 35.2 0a17.6 17.6 0 1 0 -35.2 0M379.0 1153.6a17.6 17.6 0 1 0 35.2 0a17.6 17.6 0 1 0 -35.2 0M383.6 1084.0a17.6 17.6 0 1 0 35.2 0a17.6 17.6 0 1 0 -35.2 0M388.3 1139.2a17.6 17.6 0 1 0 35.2 0a17.6 17.6 0 1 0 -35.2 0M392.9 1134.3a17.6 17.6 0 1 0 35.2 0a17.6 17.6 0 1 0 -35.2 0M397.5 1060.0a17.6 17.6 0 1 0 35.2 0a17.6 17.6 0 1 0 -35.2 0M402.1 1046.1a17.6 17.6 0 1 0 35.2 0a17.6 17.6 0 1 0 -35.2 0M406.8 1115.9a17.6 17.6 0 1 0 35.2 0a17.6 17.6 0 1 0 -35.2 0M411.4 1068.4a17.6 17.6 0 1 0 35.2 0a17.6 17.6 0 1 0 -35.2 0M416.0 1182.6a17.6 17.6 0 1 0 35.2 0a17.6 17.6 0 1 0 -35.2 0M420.6 1150.8a17.6 17.6 0 1 0 35.2 0a17.6 17.6 0 1 0 -35.2 0M425.2 1261.4a17.6 17.6 0 1 0 35.2 0a17.6 17.6 0 1 0 -35.2 0M429.9 1136.9a17.6 17.6 0 1 0 35.2 0a17.6 17.6 0 1 0 -35.2 0M434.5 1105.3a17.6 17.6 0 1 0 35.2 0a17.6 17.6 0 1 0 -35.2 0M439.1 1079.4a17.6 17.6 0 1 0 35.2 0a17.6 17.6 0 1 0 -35.2 0M443.7 1076.5a17.6 17.6 0 1 0 35.2 0a17.6 17.6 0 1 0 -35.2 0M448.3 1030.7a17.6 17.6 0 1 0 35.2 0a17.6 17.6 0 1 0 -35.2 0M453.0 1201.8a17.6 17.6 0 1 0 35.2 0a17.6 17.6 0 1 0 -35.2 0M457.6 1100.9a17.6 17.6 0 1 0 35.2 0a17.6 17.6 0 1 0 -35.2 0M462.2 1113.6a17.6 17.6 0 1 0 35.2 0a17.6 17.6 0 1 0 -35.2 0M466.8 1117.2a17.6 17.6 0 1 0 35.2 0a17.6 17.6 0 1 0 -35.2 0M471.4 1104.7a17.6 17.6 0 1 0 35.2 0a17.6 17.6 0 1 0 -35.2 0M476.1 1123.5a17.6 17.6 0 1 0 35.2 0a17.6 17.6 0 1 0 -35.2 0M480.7 1129.5a17.6 17.6 0 1 0 35.2 0a17.6 17.6 0 1 0 -35.2 0M485.3 1230.6a17.6 17.6 0 1 0 35.2 0a17.6 17.6 0 1 0 -35.2 0M489.9 1257.5a17.6 17.6 0 1 0 35.2 0a17.6 17.6 0 1 0 -35.2 0M494.6 1124.0a17.6 17.6 0 1 0 35.2 0a17.6 17.6 0 1 0 -35.2 0M499.2 1117.2a17.6 17.6 0 1 0 35.2 0a17.6 17.6 0 1 0 -35.2 0M503.8 1095.2a17.6 17.6 0 1 0 35.2 0a17.6 17.6 0 1 0 -35.2 0M508.4 1088.6a17.6 17.6 0 1 0 35.2 0a17.6 17.6 0 1 0 -35.2 0M513.0 1188.3a17.6 17.6 0 1 0 35.2 0a17.6 17.6 0 1 0 -35.2 0M517.7 1070.8a17.6 17.6 0 1 0 35.2 0a17.6 17.6 0 1 0 -35.2 0M522.3 1120.6a17.6 17.6 0 1 0 35.2 0a17.6 17.6 0 1 0 -35.2 0M526.9 1224.8a17.6 17.6 0 1 0 35.2 0a17.6 17.6 0 1 0 -35.2 0M531.5 1247.9a17.6 17.6 0 1 0 35.2 0a17.6 17.6 0 1 0 -35.2 0M536.1 1236.4a17.6 17.6 0 1 0 35.2 0a17.6 17.6 0 1 0 -35.2 0M540.8 1272.9a17.6 17.6 0 1 0 35.2 0a17.6 17.6 0 1 0 -35.2 0M545.4 1255.6a17.6 17.6 0 1 0 35.2 0a17.6 17.6 0 1 0 -35.2 0M550.0 1088.5a17.6 17.6 0 1 0 35.2 0a17.6 17.6 0 1 0 -35.2 0M554.6 1080.4a17.6 17.6 0 1 0 35.2 0a17.6 17.6 0 1 0 -35.2 0M559.3 1061.4a17.6 17.6 0 1 0 35.2 0a17.6 17.6 0 1 0 -35.2 0M563.9 1081.0a17.6 17.6 0 1 0 35.2 0a17.6 17.6 0 1 0 -35.2 0M568.5 1057.6a17.6 17.6 0 1 0 35.2 0a17.6 17.6 0 1 0 -35.2 0M573.1 1079.5a17.6 17.6 0 1 0 35.2 0a17.6 17.6 0 1 0 -35.2 0M577.7 1080.6a17.6 17.6 0 1 0 35.2 0a17.6 17.6 0 1 0 -35.2 0M582.4 1219.1a17.6 17.6 0 1 0 35.2 0a17.6 17.6 0 1 0 -35.2 0M587.0 1051.8a17.6 17.6 0 1 0 35.2 0a17.6 17.6 0 1 0 -35.2 0M591.6 1154.4a17.6 17.6 0 1 0 35.2 0a17.6 17.6 0 1 0 -35.2 0M596.2 1169.1a17.6 17.6 0 1 0 35.2 0a17.6 17.6 0 1 0 -35.2 0M600.8 1118.4a17.6 17.6 0 1 0 35.2 0a17.6 17.6 0 1 0 -35.2 0M605.5 1038.4a17.6 17.6 0 1 0 35.2 0a17.6 17.6 0 1 0 -35.2 0M610.1 1084.2a17.6 17.6 0 1 0 35.2 0a17.6 17.6 0 1 0 -35.2 0M614.7 1080.3a17.6 17.6 0 1 0 35.2 0a17.6 17.6 0 1 0 -35.2 0M619.3 1093.9a17.6 17.6 0 1 0 35.2 0a17.6 17.6 0 1 0 -35.2 0M623.9 1114.5a17.6 17.6 0 1 0 35.2 0a17.6 17.6 0 1 0 -35.2 0M628.6 1089.3a17.6 17.6 0 1 0 35.2 0a17.6 17.6 0 1 0 -35.2 0M633.2 1108.2a17.6 17.6 0 1 0 35.2 0a17.6 17.6 0 1 0 -35.2 0M637.8 1146.0a17.6 17.6 0 1 0 35.2 0a17.6 17.6 0 1 0 -35.2 0M642.4 1132.2a17.6 17.6 0 1 0 35.2 0a17.6 17.6 0 1 0 -35.2 0M647.1 1051.8a17.6 17.6 0 1 0 35.2 0a17.6 17.6 0 1 0 -35.2 0M651.7 1091.0a17.6 17.6 0 1 0 35.2 0a17.6 17.6 0 1 0 -35.2 0M656.3 1188.3a17.6 17.6 0 1 0 35.2 0a17.6 17.6 0 1 0 -35.2 0M660.9 1109.9a17.6 17.6 0 1 0 35.2 0a17.6 17.6 0 1 0 -35.2 0M665.5 896.1a17.6 17.6 0 1 0 35.2 0a17.6 17.6 0 1 0 -35.2 0M670.2 998.0a17.6 17.6 0 1 0 35.2 0a17.6 17.6 0 1 0 -35.2 0M674.8 1005.7a17.6 17.6 0 1 0 35.2 0a17.6 17.6 0 1 0 -35.2 0M679.4 924.9a17.6 17.6 0 1 0 35.2 0a17.6 17.6 0 1 0 -35.2 0M684.0 1019.1a17.6 17.6 0 1 0 35.2 0a17.6 17.6 0 1 0 -35.2 0M688.6 1086.4a17.6 17.6 0 1 0 35.2 0a17.6 17.6 0 1 0 -35.2 0M693.3 1088.4a17.6 17.6 0 1 0 35.2 0a17.6 17.6 0 1 0 -35.2 0M697.9 1447.9a17.6 17.6 0 1 0 35.2 0a17.6 17.6 0 1 0 -35.2 0M702.5 1409.4a17.6 17.6 0 1 0 35.2 0a17.6 17.6 0 1 0 -35.2 0M707.1 1397.9a17.6 17.6 0 1 0 35.2 0a17.6 17.6 0 1 0 -35.2 0M711.8 1374.8a17.6 17.6 0 1 0 35.2 0a17.6 17.6 0 1 0 -35.2 0M716.4 1467.1a17.6 17.6 0 1 0 35.2 0a17.6 17.6 0 1 0 -35.2 0M721.0 1030.7a17.6 17.6 0 1 0 35.2 0a17.6 17.6 0 1 0 -35.2 0M725.6 1155.6a17.6 17.6 0 1 0 35.2 0a17.6 17.6 0 1 0 -35.2 0M730.2 1034.5a17.6 17.6 0 1 0 35.2 0a17.6 17.6 0 1 0 -35.2 0M734.9 1261.4a17.6 17.6 0 1 0 35.2 0a17.6 17.6 0 1 0 -35.2 0M739.5 1211.4a17.6 17.6 0 1 0 35.2 0a17.6 17.6 0 1 0 -35.2 0M744.1 1092.8a17.6 17.6 0 1 0 35.2 0a17.6 17.6 0 1 0 -35.2 0M748.7 1086.3a17.6 17.6 0 1 0 35.2 0a17.6 17.6 0 1 0 -35.2 0M753.3 1036.4a17.6 17.6 0 1 0 35.2 0a17.6 17.6 0 1 0 -35.2 0M758.0 1061.4a17.6 17.6 0 1 0 35.2 0a17.6 17.6 0 1 0 -35.2 0M762.6 1086.4a17.6 17.6 0 1 0 35.2 0a17.6 17.6 0 1 0 -35.2 0M767.2 1072.6a17.6 17.6 0 1 0 35.2 0a17.6 17.6 0 1 0 -35.2 0M771.8 1138.3a17.6 17.6 0 1 0 35.2 0a17.6 17.6 0 1 0 -35.2 0M776.4 1196.0a17.6 17.6 0 1 0 35.2 0a17.6 17.6 0 1 0 -35.2 0M781.1 1176.8a17.6 17.6 0 1 0 35.2 0a17.6 17.6 0 1 0 -35.2 0M785.7 1190.2a17.6 17.6 0 1 0 35.2 0a17.6 17.6 0 1 0 -35.2 0M790.3 1269.1a17.6 17.6 0 1 0 35.2 0a17.6 17.6 0 1 0 -35.2 0M794.9 1209.5a17.6 17.6 0 1 0 35.2 0a17.6 17.6 0 1 0 -35.2 0M799.6 1172.9a17.6 17.6 0 1 0 35.2 0a17.6 17.6 0 1 0 -35.2 0M804.2 1107.3a17.6 17.6 0 1 0 35.2 0a17.6 17.6 0 1 0 -35.2 0M808.8 1055.5a17.6 17.6 0 1 0 35.2 0a17.6 17.6 0 1 0 -35.2 0M813.4 1134.5a17.6 17.6 0 1 0 35.2 0a17.6 17.6 0 1 0 -35.2 0M818.0 1024.9a17.6 17.6 0 1 0 35.2 0a17.6 17.6 0 1 0 -35.2 0M822.7 1090.6a17.6 17.6 0 1 0 35.2 0a17.6 17.6 0 1 0 -35.2 0M827.3 1063.1a17.6 17.6 0 1 0 35.2 0a17.6 17.6 0 1 0 -35.2 0M831.9 1194.1a17.6 17.6 0 1 0 35.2 0a17.6 17.6 0 1 0 -35.2 0M836.5 1051.8a17.6 17.6 0 1 0 35.2 0a17.6 17.6 0 1 0 -35.2 0M841.1 1073.7a17.6 17.6 0 1 0 35.2 0a17.6 17.6 0 1 0 -35.2 0M845.8 1086.7a17.6 17.6 0 1 0 35.2 0a17.6 17.6 0 1 0 -35.2 0M850.4 1240.2a17.6 17.6 0 1 0 35.2 0a17.6 17.6 0 1 0 -35.2 0M855.0 1162.0a17.6 17.6 0 1 0 35.2 0a17.6 17.6 0 1 0 -35.2 0M859.6 1061.4a17.6 17.6 0 1 0 35.2 0a17.6 17.6 0 1 0 -35.2 0M864.3 1143.7a17.6 17.6 0 1 0 35.2 0a17.6 17.6 0 1 0 -35.2 0M868.9 1209.5a17.6 17.6 0 1 0 35.2 0a17.6 17.6 0 1 0 -35.2 0M873.5 1108.2a17.6 17.6 0 1 0 35.2 0a17.6 17.6 0 1 0 -35.2 0M878.1 1084.5a17.6 17.6 0 1 0 35.2 0a17.6 17.6 0 1 0 -35.2 0M882.7 1161.4a17.6 17.6 0 1 0 35.2 0a17.6 17.6 0 1 0 -35.2 0M887.4 1078.2a17.6 17.6 0 1 0 35.2 0a17.6 17.6 0 1 0 -35.2 0M892.0 1153.9a17.6 17.6 0 1 0 35.2 0a17.6 17.6 0 1 0 -35.2 0M896.6 1083.2a17.6 17.6 0 1 0 35.2 0a17.6 17.6 0 1 0 -35.2 0M901.2 1186.4a17.6 17.6 0 1 0 35.2 0a17.6 17.6 0 1 0 -35.2 0M905.8 1152.5a17.6 17.6 0 1 0 35.2 0a17.6 17.6 0 1 0 -35.2 0M910.5 1092.5a17.6 17.6 0 1 0 35.2 0a17.6 17.6 0 1 0 -35.2 0M915.1 1073.0a17.6 17.6 0 1 0 35.2 0a17.6 17.6 0 1 0 -35.2 0M919.7 1215.2a17.6 17.6 0 1 0 35.2 0a17.6 17.6 0 1 0 -35.2 0M924.3 1116.0a17.6 17.6 0 1 0 35.2 0a17.6 17.6 0 1 0 -35.2 0M929.0 1105.8a17.6 17.6 0 1 0 35.2 0a17.6 17.6 0 1 0 -35.2 0M933.6 1051.8a17.6 17.6 0 1 0 35.2 0a17.6 17.6 0 1 0 -35.2 0M938.2 1108.0a17.6 17.6 0 1 0 35.2 0a17.6 17.6 0 1 0 -35.2 0M942.8 1013.4a17.6 17.6 0 1 0 35.2 0a17.6 17.6 0 1 0 -35.2 0M947.4 1055.7a17.6 17.6 0 1 0 35.2 0a17.6 17.6 0 1 0 -35.2 0M952.1 1176.8a17.6 17.6 0 1 0 35.2 0a17.6 17.6 0 1 0 -35.2 0M956.7 1104.7a17.6 17.6 0 1 0 35.2 0a17.6 17.6 0 1 0 -35.2 0M961.3 1217.2a17.6 17.6 0 1 0 35.2 0a17.6 17.6 0 1 0 -35.2 0M965.9 1086.2a17.6 17.6 0 1 0 35.2 0a17.6 17.6 0 1 0 -35.2 0M970.5 1142.9a17.6 17.6 0 1 0 35.2 0a17.6 17.6 0 1 0 -35.2 0M975.2 1124.0a17.6 17.6 0 1 0 35.2 0a17.6 17.6 0 1 0 -35.2 0M979.8 1078.1a17.6 17.6 0 1 0 35.2 0a17.6 17.6 0 1 0 -35.2 0M984.4 1103.3a17.6 17.6 0 1 0 35.2 0a17.6 17.6 0 1 0 -35.2 0M989.0 1176.8a17.6 17.6 0 1 0 35.2 0a17.6 17.6 0 1 0 -35.2 0M993.6 1136.5a17.6 17.6 0 1 0 35.2 0a17.6 17.6 0 1 0 -35.2 0M998.3 1051.8a17.6 17.6 0 1 0 35.2 0a17.6 17.6 0 1 0 -35.2 0M1002.9 1122.6a17.6 17.6 0 1 0 35.2 0a17.6 17.6 0 1 0 -35.2 0M1007.5 1046.1a17.6 17.6 0 1 0 35.2 0a17.6 17.6 0 1 0 -35.2 0M1012.1 1051.8a17.6 17.6 0 1 0 35.2 0a17.6 17.6 0 1 0 -35.2 0M1016.8 1148.9a17.6 17.6 0 1 0 35.2 0a17.6 17.6 0 1 0 -35.2 0M1021.4 1055.8a17.6 17.6 0 1 0 35.2 0a17.6 17.6 0 1 0 -35.2 0M1026.0 1063.4a17.6 17.6 0 1 0 35.2 0a17.6 17.6 0 1 0 -35.2 0M1030.6 1064.1a17.6 17.6 0 1 0 35.2 0a17.6 17.6 0 1 0 -35.2 0M1035.2 1255.6a17.6 17.6 0 1 0 35.2 0a17.6 17.6 0 1 0 -35.2 0M1039.9 1282.5a17.6 17.6 0 1 0 35.2 0a17.6 17.6 0 1 0 -35.2 0M1044.5 1147.1a17.6 17.6 0 1 0 35.2 0a17.6 17.6 0 1 0 -35.2 0M1049.1 1146.4a17.6 17.6 0 1 0 35.2 0a17.6 17.6 0 1 0 -35.2 0M1053.7 1028.8a17.6 17.6 0 1 0 35.2 0a17.6 17.6 0 1 0 -35.2 0M1058.3 951.9a17.6 17.6 0 1 0 35.2 0a17.6 17.6 0 1 0 -35.2 0M1063.0 1013.4a17.6 17.6 0 1 0 35.2 0a17.6 17.6 0 1 0 -35.2 0M1067.6 1128.4a17.6 17.6 0 1 0 35.2 0a17.6 17.6 0 1 0 -35.2 0M1072.2 1188.3a17.6 17.6 0 1 0 35.2 0a17.6 17.6 0 1 0 -35.2 0M1076.8 1118.4a17.6 17.6 0 1 0 35.2 0a17.6 17.6 0 1 0 -35.2 0M1081.5 1075.2a17.6 17.6 0 1 0 35.2 0a17.6 17.6 0 1 0 -35.2 0M1086.1 1133.3a17.6 17.6 0 1 0 35.2 0a17.6 17.6 0 1 0 -35.2 0M1090.7 1065.3a17.6 17.6 0 1 0 35.2 0a17.6 17.6 0 1 0 -35.2 0M1095.3 1119.5a17.6 17.6 0 1 0 35.2 0a17.6 17.6 0 1 0 -35.2 0M1099.9 1152.1a17.6 17.6 0 1 0 35.2 0a17.6 17.6 0 1 0 -35.2 0M1104.6 1084.2a17.6 17.6 0 1 0 35.2 0a17.6 17.6 0 1 0 -35.2 0M1109.2 1104.1a17.6 17.6 0 1 0 35.2 0a17.6 17.6 0 1 0 -35.2 0M1113.8 1072.3a17.6 17.6 0 1 0 35.2 0a17.6 17.6 0 1 0 -35.2 0M1118.4 1119.1a17.6 17.6 0 1 0 35.2 0a17.6 17.6 0 1 0 -35.2 0M1123.0 1171.0a17.6 17.6 0 1 0 35.2 0a17.6 17.6 0 1 0 -35.2 0M1127.7 1077.8a17.6 17.6 0 1 0 35.2 0a17.6 17.6 0 1 0 -35.2 0M1132.3 1158.0a17.6 17.6 0 1 0 35.2 0a17.6 17.6 0 1 0 -35.2 0M1136.9 1060.7a17.6 17.6 0 1 0 35.2 0a17.6 17.6 0 1 0 -35.2 0M1141.5 1139.0a17.6 17.6 0 1 0 35.2 0a17.6 17.6 0 1 0 -35.2 0M1146.2 1284.4a17.6 17.6 0 1 0 35.2 0a17.6 17.6 0 1 0 -35.2 0M1150.8 1040.3a17.6 17.6 0 1 0 35.2 0a17.6 17.6 0 1 0 -35.2 0M1155.4 1112.5a17.6 17.6 0 1 0 35.2 0a17.6 17.6 0 1 0 -35.2 0M1160.0 1051.8a17.6 17.6 0 1 0 35.2 0a17.6 17.6 0 1 0 -35.2 0M1164.6 1051.8a17.6 17.6 0 1 0 35.2 0a17.6 17.6 0 1 0 -35.2 0M1169.3 980.7a17.6 17.6 0 1 0 35.2 0a17.6 17.6 0 1 0 -35.2 0M1173.9 1094.7a17.6 17.6 0 1 0 35.2 0a17.6 17.6 0 1 0 -35.2 0M1178.5 1158.8a17.6 17.6 0 1 0 35.2 0a17.6 17.6 0 1 0 -35.2 0M1183.1 1077.5a17.6 17.6 0 1 0 35.2 0a17.6 17.6 0 1 0 -35.2 0M1187.7 1127.9a17.6 17.6 0 1 0 35.2 0a17.6 17.6 0 1 0 -35.2 0M1192.4 1057.6a17.6 17.6 0 1 0 35.2 0a17.6 17.6 0 1 0 -35.2 0M1197.0 1136.3a17.6 17.6 0 1 0 35.2 0a17.6 17.6 0 1 0 -35.2 0M1201.6 1116.9a17.6 17.6 0 1 0 35.2 0a17.6 17.6 0 1 0 -35.2 0M1206.2 1105.6a17.6 17.6 0 1 0 35.2 0a17.6 17.6 0 1 0 -35.2 0M1210.8 1073.8a17.6 17.6 0 1 0 35.2 0a17.6 17.6 0 1 0 -35.2 0M1215.5 1126.9a17.6 17.6 0 1 0 35.2 0a17.6 17.6 0 1 0 -35.2 0M1220.1 1092.6a17.6 17.6 0 1 0 35.2 0a17.6 17.6 0 1 0 -35.2 0M1224.7 1209.5a17.6 17.6 0 1 0 35.2 0a17.6 17.6 0 1 0 -35.2 0M1229.3 1073.3a17.6 17.6 0 1 0 35.2 0a17.6 17.6 0 1 0 -35.2 0M1234.0 1110.7a17.6 17.6 0 1 0 35.2 0a17.6 17.6 0 1 0 -35.2 0M1238.6 1108.4a17.6 17.6 0 1 0 35.2 0a17.6 17.6 0 1 0 -35.2 0M1243.2 1162.5a17.6 17.6 0 1 0 35.2 0a17.6 17.6 0 1 0 -35.2 0M1247.8 1190.2a17.6 17.6 0 1 0 35.2 0a17.6 17.6 0 1 0 -35.2 0M1252.4 1055.7a17.6 17.6 0 1 0 35.2 0a17.6 17.6 0 1 0 -35.2 0M1257.1 1051.8a17.6 17.6 0 1 0 35.2 0a17.6 17.6 0 1 0 -35.2 0M1261.7 1078.9a17.6 17.6 0 1 0 35.2 0a17.6 17.6 0 1 0 -35.2 0M1266.3 1095.7a17.6 17.6 0 1 0 35.2 0a17.6 17.6 0 1 0 -35.2 0M1270.9 1058.6a17.6 17.6 0 1 0 35.2 0a17.6 17.6 0 1 0 -35.2 0M1275.5 1102.5a17.6 17.6 0 1 0 35.2 0a17.6 17.6 0 1 0 -35.2 0M1280.2 1172.9a17.6 17.6 0 1 0 35.2 0a17.6 17.6 0 1 0 -35.2 0M1284.8 1117.1a17.6 17.6 0 1 0 35.2 0a17.6 17.6 0 1 0 -35.2 0M1289.4 1049.9a17.6 17.6 0 1 0 35.2 0a17.6 17.6 0 1 0 -35.2 0M1294.0 1172.9a17.6 17.6 0 1 0 35.2 0a17.6 17.6 0 1 0 -35.2 0M1298.7 1086.5a17.6 17.6 0 1 0 35.2 0a17.6 17.6 0 1 0 -35.2 0M1303.3 1188.3a17.6 17.6 0 1 0 35.2 0a17.6 17.6 0 1 0 -35.2 0M1307.9 1121.7a17.6 17.6 0 1 0 35.2 0a17.6 17.6 0 1 0 -35.2 0M1312.5 1114.3a17.6 17.6 0 1 0 35.2 0a17.6 17.6 0 1 0 -35.2 0M1317.1 1088.9a17.6 17.6 0 1 0 35.2 0a17.6 17.6 0 1 0 -35.2 0M1321.8 1119.2a17.6 17.6 0 1 0 35.2 0a17.6 17.6 0 1 0 -35.2 0M1326.4 1221.0a17.6 17.6 0 1 0 35.2 0a17.6 17.6 0 1 0 -35.2 0M1331.0 1152.5a17.6 17.6 0 1 0 35.2 0a17.6 17.6 0 1 0 -35.2 0M1335.6 1066.7a17.6 17.6 0 1 0 35.2 0a17.6 17.6 0 1 0 -35.2 0M1340.2 1076.8a17.6 17.6 0 1 0 35.2 0a17.6 17.6 0 1 0 -35.2 0M1344.9 1222.9a17.6 17.6 0 1 0 35.2 0a17.6 17.6 0 1 0 -35.2 0M1349.5 1143.4a17.6 17.6 0 1 0 35.2 0a17.6 17.6 0 1 0 -35.2 0M1354.1 1097.7a17.6 17.6 0 1 0 35.2 0a17.6 17.6 0 1 0 -35.2 0M1358.7 1221.0a17.6 17.6 0 1 0 35.2 0a17.6 17.6 0 1 0 -35.2 0M1363.3 1259.5a17.6 17.6 0 1 0 35.2 0a17.6 17.6 0 1 0 -35.2 0M1368.0 1110.7a17.6 17.6 0 1 0 35.2 0a17.6 17.6 0 1 0 -35.2 0M1372.6 1098.1a17.6 17.6 0 1 0 35.2 0a17.6 17.6 0 1 0 -35.2 0M1377.2 1140.7a17.6 17.6 0 1 0 35.2 0a17.6 17.6 0 1 0 -35.2 0M1381.8 1073.1a17.6 17.6 0 1 0 35.2 0a17.6 17.6 0 1 0 -35.2 0M1386.5 1117.9a17.6 17.6 0 1 0 35.2 0a17.6 17.6 0 1 0 -35.2 0M1391.1 1113.2a17.6 17.6 0 1 0 35.2 0a17.6 17.6 0 1 0 -35.2 0M1395.7 1143.4a17.6 17.6 0 1 0 35.2 0a17.6 17.6 0 1 0 -35.2 0M1400.3 1197.9a17.6 17.6 0 1 0 35.2 0a17.6 17.6 0 1 0 -35.2 0M1404.9 1091.4a17.6 17.6 0 1 0 35.2 0a17.6 17.6 0 1 0 -35.2 0M1409.6 1118.7a17.6 17.6 0 1 0 35.2 0a17.6 17.6 0 1 0 -35.2 0M1414.2 1017.2a17.6 17.6 0 1 0 35.2 0a17.6 17.6 0 1 0 -35.2 0M1418.8 1124.8a17.6 17.6 0 1 0 35.2 0a17.6 17.6 0 1 0 -35.2 0M1423.4 1108.9a17.6 17.6 0 1 0 35.2 0a17.6 17.6 0 1 0 -35.2 0M1428.0 1221.0a17.6 17.6 0 1 0 35.2 0a17.6 17.6 0 1 0 -35.2 0M1432.7 1137.5a17.6 17.6 0 1 0 35.2 0a17.6 17.6 0 1 0 -35.2 0M1437.3 1106.6a17.6 17.6 0 1 0 35.2 0a17.6 17.6 0 1 0 -35.2 0M1441.9 1151.7a17.6 17.6 0 1 0 35.2 0a17.6 17.6 0 1 0 -35.2 0M1446.5 1051.8a17.6 17.6 0 1 0 35.2 0a17.6 17.6 0 1 0 -35.2 0M1451.2 1152.1a17.6 17.6 0 1 0 35.2 0a17.6 17.6 0 1 0 -35.2 0M1455.8 1081.3a17.6 17.6 0 1 0 35.2 0a17.6 17.6 0 1 0 -35.2 0M1460.4 1267.1a17.6 17.6 0 1 0 35.2 0a17.6 17.6 0 1 0 -35.2 0M1465.0 1074.9a17.6 17.6 0 1 0 35.2 0a17.6 17.6 0 1 0 -35.2 0M1469.6 1095.2a17.6 17.6 0 1 0 35.2 0a17.6 17.6 0 1 0 -35.2 0M1474.3 980.7a17.6 17.6 0 1 0 35.2 0a17.6 17.6 0 1 0 -35.2 0M1478.9 1092.9a17.6 17.6 0 1 0 35.2 0a17.6 17.6 0 1 0 -35.2 0M1483.5 1017.2a17.6 17.6 0 1 0 35.2 0a17.6 17.6 0 1 0 -35.2 0M1488.1 1199.9a17.6 17.6 0 1 0 35.2 0a17.6 17.6 0 1 0 -35.2 0M1492.7 1217.2a17.6 17.6 0 1 0 35.2 0a17.6 17.6 0 1 0 -35.2 0M1497.4 1133.0a17.6 17.6 0 1 0 35.2 0a17.6 17.6 0 1 0 -35.2 0M1502.0 1097.5a17.6 17.6 0 1 0 35.2 0a17.6 17.6 0 1 0 -35.2 0M1506.6 1055.7a17.6 17.6 0 1 0 35.2 0a17.6 17.6 0 1 0 -35.2 0M1511.2 1135.1a17.6 17.6 0 1 0 35.2 0a17.6 17.6 0 1 0 -35.2 0M1515.9 1149.9a17.6 17.6 0 1 0 35.2 0a17.6 17.6 0 1 0 -35.2 0M1520.5 1138.3a17.6 17.6 0 1 0 35.2 0a17.6 17.6 0 1 0 -35.2 0M1525.1 1089.7a17.6 17.6 0 1 0 35.2 0a17.6 17.6 0 1 0 -35.2 0M1529.7 1067.2a17.6 17.6 0 1 0 35.2 0a17.6 17.6 0 1 0 -35.2 0M1534.3 1036.4a17.6 17.6 0 1 0 35.2 0a17.6 17.6 0 1 0 -35.2 0M1539.0 1091.8a17.6 17.6 0 1 0 35.2 0a17.6 17.6 0 1 0 -35.2 0M1543.6 1097.2a17.6 17.6 0 1 0 35.2 0a17.6 17.6 0 1 0 -35.2 0M1548.2 1176.8a17.6 17.6 0 1 0 35.2 0a17.6 17.6 0 1 0 -35.2 0M1552.8 1149.2a17.6 17.6 0 1 0 35.2 0a17.6 17.6 0 1 0 -35.2 0M1557.4 1119.0a17.6 17.6 0 1 0 35.2 0a17.6 17.6 0 1 0 -35.2 0M1562.1 1172.9a17.6 17.6 0 1 0 35.2 0a17.6 17.6 0 1 0 -35.2 0M1566.7 1110.0a17.6 17.6 0 1 0 35.2 0a17.6 17.6 0 1 0 -35.2 0M1571.3 1074.9a17.6 17.6 0 1 0 35.2 0a17.6 17.6 0 1 0 -35.2 0M1575.9 1209.5a17.6 17.6 0 1 0 35.2 0a17.6 17.6 0 1 0 -35.2 0M1580.5 1078.8a17.6 17.6 0 1 0 35.2 0a17.6 17.6 0 1 0 -35.2 0M1585.2 1059.5a17.6 17.6 0 1 0 35.2 0a17.6 17.6 0 1 0 -35.2 0M1589.8 1086.3a17.6 17.6 0 1 0 35.2 0a17.6 17.6 0 1 0 -35.2 0M1594.4 1159.8a17.6 17.6 0 1 0 35.2 0a17.6 17.6 0 1 0 -35.2 0M1599.0 1188.3a17.6 17.6 0 1 0 35.2 0a17.6 17.6 0 1 0 -35.2 0M1603.7 1088.8a17.6 17.6 0 1 0 35.2 0a17.6 17.6 0 1 0 -35.2 0M1608.3 1172.9a17.6 17.6 0 1 0 35.2 0a17.6 17.6 0 1 0 -35.2 0M1612.9 1094.5a17.6 17.6 0 1 0 35.2 0a17.6 17.6 0 1 0 -35.2 0M1617.5 1166.5a17.6 17.6 0 1 0 35.2 0a17.6 17.6 0 1 0 -35.2 0M1622.1 1009.5a17.6 17.6 0 1 0 35.2 0a17.6 17.6 0 1 0 -35.2 0M1626.8 1119.0a17.6 17.6 0 1 0 35.2 0a17.6 17.6 0 1 0 -35.2 0M1631.4 1164.3a17.6 17.6 0 1 0 35.2 0a17.6 17.6 0 1 0 -35.2 0M1636.0 1108.5a17.6 17.6 0 1 0 35.2 0a17.6 17.6 0 1 0 -35.2 0M1640.6 1163.3a17.6 17.6 0 1 0 35.2 0a17.6 17.6 0 1 0 -35.2 0M1645.2 1069.1a17.6 17.6 0 1 0 35.2 0a17.6 17.6 0 1 0 -35.2 0M1649.9 1097.9a17.6 17.6 0 1 0 35.2 0a17.6 17.6 0 1 0 -35.2 0M1654.5 1172.9a17.6 17.6 0 1 0 35.2 0a17.6 17.6 0 1 0 -35.2 0M1659.1 1051.8a17.6 17.6 0 1 0 35.2 0a17.6 17.6 0 1 0 -35.2 0M1663.7 1167.2a17.6 17.6 0 1 0 35.2 0a17.6 17.6 0 1 0 -35.2 0M1668.4 1076.2a17.6 17.6 0 1 0 35.2 0a17.6 17.6 0 1 0 -35.2 0M1673.0 1172.9a17.6 17.6 0 1 0 35.2 0a17.6 17.6 0 1 0 -35.2 0M1677.6 1087.3a17.6 17.6 0 1 0 35.2 0a17.6 17.6 0 1 0 -35.2 0M1682.2 1042.2a17.6 17.6 0 1 0 35.2 0a17.6 17.6 0 1 0 -35.2 0M1686.8 1055.5a17.6 17.6 0 1 0 35.2 0a17.6 17.6 0 1 0 -35.2 0M1691.5 1148.5a17.6 17.6 0 1 0 35.2 0a17.6 17.6 0 1 0 -35.2 0M1696.1 1082.2a17.6 17.6 0 1 0 35.2 0a17.6 17.6 0 1 0 -35.2 0M1700.7 1093.8a17.6 17.6 0 1 0 35.2 0a17.6 17.6 0 1 0 -35.2 0M1705.3 1108.7a17.6 17.6 0 1 0 35.2 0a17.6 17.6 0 1 0 -35.2 0M1709.9 1085.5a17.6 17.6 0 1 0 35.2 0a17.6 17.6 0 1 0 -35.2 0M1714.6 1076.8a17.6 17.6 0 1 0 35.2 0a17.6 17.6 0 1 0 -35.2 0M1719.2 1112.4a17.6 17.6 0 1 0 35.2 0a17.6 17.6 0 1 0 -35.2 0M1723.8 1197.9a17.6 17.6 0 1 0 35.2 0a17.6 17.6 0 1 0 -35.2 0M1728.4 1119.0a17.6 17.6 0 1 0 35.2 0a17.6 17.6 0 1 0 -35.2 0M1733.0 1101.1a17.6 17.6 0 1 0 35.2 0a17.6 17.6 0 1 0 -35.2 0M1737.7 1166.4a17.6 17.6 0 1 0 35.2 0a17.6 17.6 0 1 0 -35.2 0M1742.3 1063.0a17.6 17.6 0 1 0 35.2 0a17.6 17.6 0 1 0 -35.2 0M1746.9 1061.4a17.6 17.6 0 1 0 35.2 0a17.6 17.6 0 1 0 -35.2 0M1751.5 1103.4a17.6 17.6 0 1 0 35.2 0a17.6 17.6 0 1 0 -35.2 0M1756.2 1071.0a17.6 17.6 0 1 0 35.2 0a17.6 17.6 0 1 0 -35.2 0M1760.8 1163.3a17.6 17.6 0 1 0 35.2 0a17.6 17.6 0 1 0 -35.2 0M1765.4 1165.3a17.6 17.6 0 1 0 35.2 0a17.6 17.6 0 1 0 -35.2 0M1770.0 1103.9a17.6 17.6 0 1 0 35.2 0a17.6 17.6 0 1 0 -35.2 0M1774.6 1139.4a17.6 17.6 0 1 0 35.2 0a17.6 17.6 0 1 0 -35.2 0M1779.3 1119.5a17.6 17.6 0 1 0 35.2 0a17.6 17.6 0 1 0 -35.2 0M1783.9 1049.9a17.6 17.6 0 1 0 35.2 0a17.6 17.6 0 1 0 -35.2 0M1788.5 1051.8a17.6 17.6 0 1 0 35.2 0a17.6 17.6 0 1 0 -35.2 0M1793.1 1129.5a17.6 17.6 0 1 0 35.2 0a17.6 17.6 0 1 0 -35.2 0M1797.7 1122.1a17.6 17.6 0 1 0 35.2 0a17.6 17.6 0 1 0 -35.2 0M1802.4 1176.8a17.6 17.6 0 1 0 35.2 0a17.6 17.6 0 1 0 -35.2 0M1807.0 1093.0a17.6 17.6 0 1 0 35.2 0a17.6 17.6 0 1 0 -35.2 0M1811.6 1091.5a17.6 17.6 0 1 0 35.2 0a17.6 17.6 0 1 0 -35.2 0M1816.2 1049.9a17.6 17.6 0 1 0 35.2 0a17.6 17.6 0 1 0 -35.2 0M1820.9 1115.3a17.6 17.6 0 1 0 35.2 0a17.6 17.6 0 1 0 -35.2 0M1825.5 1057.5a17.6 17.6 0 1 0 35.2 0a17.6 17.6 0 1 0 -35.2 0M1830.1 1093.7a17.6 17.6 0 1 0 35.2 0a17.6 17.6 0 1 0 -35.2 0M1834.7 1073.3a17.6 17.6 0 1 0 35.2 0a17.6 17.6 0 1 0 -35.2 0M1839.3 1163.3a17.6 17.6 0 1 0 35.2 0a17.6 17.6 0 1 0 -35.2 0M1844.0 1092.6a17.6 17.6 0 1 0 35.2 0a17.6 17.6 0 1 0 -35.2 0M1848.6 1065.3a17.6 17.6 0 1 0 35.2 0a17.6 17.6 0 1 0 -35.2 0M1853.2 1063.4a17.6 17.6 0 1 0 35.2 0a17.6 17.6 0 1 0 -35.2 0M1857.8 1188.3a17.6 17.6 0 1 0 35.2 0a17.6 17.6 0 1 0 -35.2 0M1862.4 1213.3a17.6 17.6 0 1 0 35.2 0a17.6 17.6 0 1 0 -35.2 0M1867.1 1112.9a17.6 17.6 0 1 0 35.2 0a17.6 17.6 0 1 0 -35.2 0M1871.7 1080.7a17.6 17.6 0 1 0 35.2 0a17.6 17.6 0 1 0 -35.2 0M1876.3 1159.5a17.6 17.6 0 1 0 35.2 0a17.6 17.6 0 1 0 -35.2 0M1880.9 1098.0a17.6 17.6 0 1 0 35.2 0a17.6 17.6 0 1 0 -35.2 0M1885.6 1261.4a17.6 17.6 0 1 0 35.2 0a17.6 17.6 0 1 0 -35.2 0" stroke="#0072BD" stroke-width="4.2" fill="none"/>
<g stroke="#262626" stroke-width="3" fill="none">
<rect x="239.5" y="894.0" width="1848.5" height="600.0"/>
<path d="M239.5 1494.0v-19M239.5 894.0v19M470.6 1494.0v-19M470.6 894.0v19M701.6 1494.0v-19M701.6 894.0v19M932.7 1494.0v-19M932.7 894.0v19M1163.8 1494.0v-19M1163.8 894.0v19M1394.8 1494.0v-19M1394.8 894.0v19M1625.9 1494.0v-19M1625.9 894.0v19M1856.9 1494.0v-19M1856.9 894.0v19M2088.0 1494.0v-19M2088.0 894.0v19M239.5 1494.0h19M2088.0 1494.0h-19M239.5 1301.8h19M2088.0 1301.8h-19M239.5 1109.5h19M2088.0 1109.5h-19M239.5 917.2h19M2088.0 917.2h-19"/>
</g>
<g font-family="'Liberation Sans', Arial, Helvetica, sans-serif" font-size="51" fill="#262626">
<text transform="translate(236.2,719.5) scale(0.88,1.12)" text-anchor="middle" letter-spacing="3.8">0</text>
<text transform="translate(467.2,719.5) scale(0.88,1.12)" text-anchor="middle" letter-spacing="3.8">50</text>
<text transform="translate(698.3,719.5) scale(0.88,1.12)" text-anchor="middle" letter-spacing="3.8">100</text>
<text transform="translate(929.4,719.5) scale(0.88,1.12)" text-anchor="middle" letter-spacing="3.8">150</text>
<text transform="translate(1160.4,719.5) scale(0.88,1.12)" text-anchor="middle" letter-spacing="3.8">200</text>
<text transform="translate(1391.5,719.5) scale(0.88,1.12)" text-anchor="middle" letter-spacing="3.8">250</text>
<text transform="translate(1622.5,719.5) scale(0.88,1.12)" text-anchor="middle" letter-spacing="3.8">300</text>
<text transform="translate(1853.6,719.5) scale(0.88,1.12)" text-anchor="middle" letter-spacing="3.8">350</text>
<text transform="translate(2084.7,719.5) scale(0.88,1.12)" text-anchor="middle" letter-spacing="3.8">400</text>
<text transform="translate(236.2,1568.5) scale(0.88,1.12)" text-anchor="middle" letter-spacing="3.8">0</text>
<text transform="translate(467.2,1568.5) scale(0.88,1.12)" text-anchor="middle" letter-spacing="3.8">50</text>
<text transform="translate(698.3,1568.5) scale(0.88,1.12)" text-anchor="middle" letter-spacing="3.8">100</text>
<text transform="translate(929.4,1568.5) scale(0.88,1.12)" text-anchor="middle" letter-spacing="3.8">150</text>
<text transform="translate(1160.4,1568.5) scale(0.88,1.12)" text-anchor="middle" letter-spacing="3.8">200</text>
<text transform="translate(1391.5,1568.5) scale(0.88,1.12)" text-anchor="middle" letter-spacing="3.8">250</text>
<text transform="translate(1622.5,1568.5) scale(0.88,1.12)" text-anchor="middle" letter-spacing="3.8">300</text>
<text transform="translate(1853.6,1568.5) scale(0.88,1.12)" text-anchor="middle" letter-spacing="3.8">350</text>
<text transform="translate(2084.7,1568.5) scale(0.88,1.12)" text-anchor="middle" letter-spacing="3.8">400</text>
<text transform="translate(220.3,68.8) scale(0.88,1.12)" text-anchor="end" letter-spacing="3.8">0.95</text>
<text transform="translate(225.0,325.2) scale(0.88,1.12)" text-anchor="end" letter-spacing="3.8">0.9</text>
<text transform="translate(220.8,577.0) scale(0.88,1.12)" text-anchor="end" letter-spacing="3.8">0.85</text>
<text transform="translate(219.5,941.3) scale(0.88,1.12)" text-anchor="end" letter-spacing="3.8">0.01</text>
<text transform="translate(224.5,1132.7) scale(0.88,1.12)" text-anchor="end" letter-spacing="3.8">0</text>
<text transform="translate(218.8,1328.6) scale(0.88,1.12)" text-anchor="end" letter-spacing="3.8"><tspan dy="-3" textLength="50" lengthAdjust="spacingAndGlyphs">−</tspan><tspan dy="3" dx="-12">0.01</tspan></text>
<text transform="translate(220.0,1521.3) scale(0.88,1.12)" text-anchor="end" letter-spacing="3.8"><tspan dy="-3" textLength="50" lengthAdjust="spacingAndGlyphs">−</tspan><tspan dy="3" dx="-12">0.02</tspan></text>
</g>
<g font-family="'Liberation Sans', Arial, Helvetica, sans-serif" font-size="56.5" fill="#262626">
<text x="1159.5" y="791.5" text-anchor="middle">Time[*600s]</text>
<text x="1159.5" y="1639.5" text-anchor="middle">Time[*600s]</text>
<text transform="translate(94.5,338) rotate(-90)" text-anchor="middle" font-size="55.7">HI of intake filter[kPa]</text>
<text transform="translate(77,1193) rotate(-90)" text-anchor="middle">Error[kPa]</text>
</g>
<g font-family="'Liberation Sans', Arial, Helvetica, sans-serif" font-size="41.5" fill="#262626">
<text transform="translate(1818.5,135.5) scale(1.085,1)">measured</text>
<text transform="translate(1818.5,197.5) scale(1.085,1)">predicted</text>
</g>
</svg>
</body></html>
